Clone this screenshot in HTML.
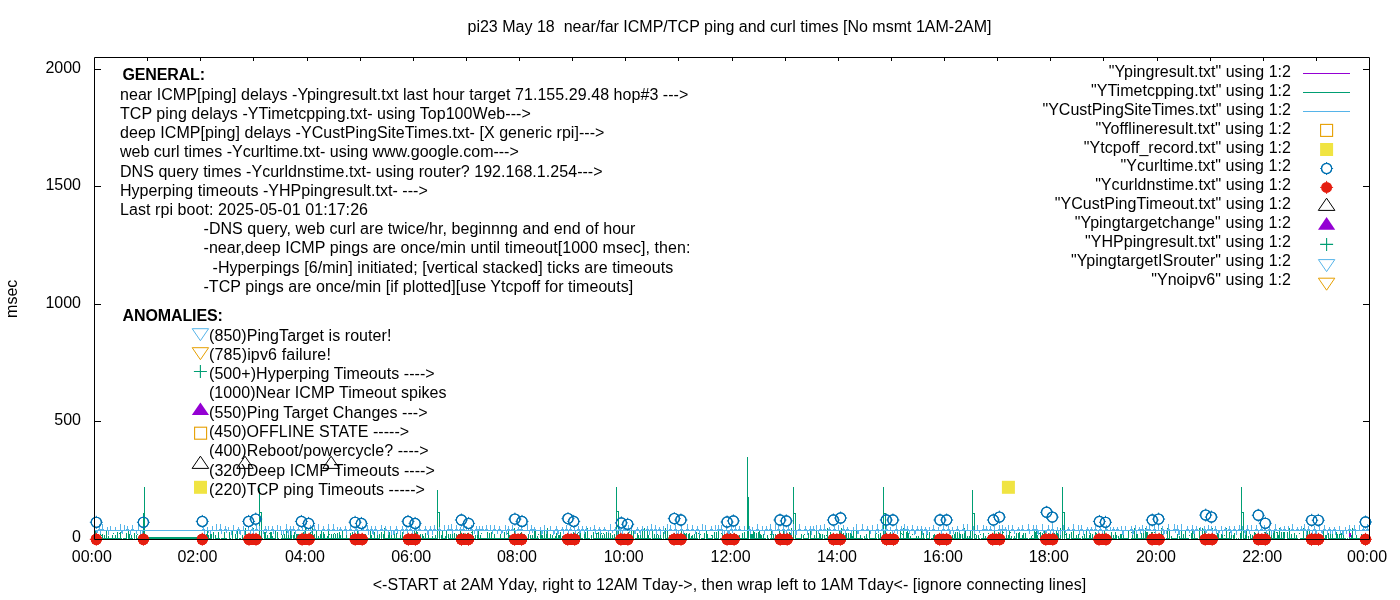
<!DOCTYPE html><html><head><meta charset="utf-8"><style>html,body{margin:0;padding:0;width:1400px;height:600px;overflow:hidden}svg{display:block;will-change:transform}text{font-family:"Liberation Sans",sans-serif;font-size:16px;fill:#000}</style></head><body>
<svg width="1400" height="600" viewBox="0 0 1400 600">
<rect width="1400" height="600" fill="#fff"/>
<path d="M95 538h1v1h-1zM95 530h1v9h-1zM96 538h1v1h-1zM97 538h1v1h-1zM97 534h1v1h-1zM98 538h1v1h-1zM98 535h1v4h-1zM99 538h1v1h-1zM100 538h1v1h-1zM100 534h1v1h-1zM101 538h1v1h-1zM101 535h1v1h-1zM102 538h1v1h-1zM102 534h1v5h-1zM103 538h1v1h-1zM104 538h1v1h-1zM104 535h1v4h-1zM105 538h1v1h-1zM106 538h1v1h-1zM106 531h1v8h-1zM107 538h1v1h-1zM108 538h1v1h-1zM108 536h1v3h-1zM109 538h1v1h-1zM110 538h1v1h-1zM111 538h1v1h-1zM112 538h1v1h-1zM112 535h1v4h-1zM113 538h1v1h-1zM113 533h1v1h-1zM114 538h1v1h-1zM115 538h1v1h-1zM115 535h1v4h-1zM116 538h1v1h-1zM117 538h1v1h-1zM117 532h1v7h-1zM118 538h1v1h-1zM119 538h1v1h-1zM119 533h1v1h-1zM120 538h1v1h-1zM120 532h1v7h-1zM121 538h1v1h-1zM123 538h1v1h-1zM124 538h1v1h-1zM125 538h1v1h-1zM126 533h1v6h-1zM128 531h1v8h-1zM129 538h1v1h-1zM129 534h1v5h-1zM130 538h1v1h-1zM130 532h1v1h-1zM131 535h1v4h-1zM132 538h1v1h-1zM134 533h1v6h-1zM136 538h1v1h-1zM136 535h1v4h-1zM137 538h1v1h-1zM137 534h1v1h-1zM138 538h1v1h-1zM139 538h1v1h-1zM139 535h1v4h-1zM140 538h1v1h-1zM141 538h1v1h-1zM142 538h1v1h-1zM142 531h1v8h-1zM143 513h1v26h-1zM201 538h1v1h-1zM202 538h1v1h-1zM204 538h1v1h-1zM204 533h1v6h-1zM205 538h1v1h-1zM206 538h1v1h-1zM206 534h1v5h-1zM207 538h1v1h-1zM207 531h1v8h-1zM208 538h1v1h-1zM208 535h1v4h-1zM209 538h1v1h-1zM210 538h1v1h-1zM210 534h1v5h-1zM211 538h1v1h-1zM211 534h1v5h-1zM213 538h1v1h-1zM213 532h1v7h-1zM215 538h1v1h-1zM215 535h1v4h-1zM216 538h1v1h-1zM217 538h1v1h-1zM218 538h1v1h-1zM218 532h1v7h-1zM219 538h1v1h-1zM221 538h1v1h-1zM222 538h1v1h-1zM223 538h1v1h-1zM224 538h1v1h-1zM224 532h1v7h-1zM225 538h1v1h-1zM226 538h1v1h-1zM229 538h1v1h-1zM229 532h1v7h-1zM230 538h1v1h-1zM232 538h1v1h-1zM232 531h1v8h-1zM235 534h1v5h-1zM236 538h1v1h-1zM237 538h1v1h-1zM237 531h1v8h-1zM239 538h1v1h-1zM240 538h1v1h-1zM242 538h1v1h-1zM242 535h1v4h-1zM243 538h1v1h-1zM244 538h1v1h-1zM245 538h1v1h-1zM245 528h1v11h-1zM247 538h1v1h-1zM247 535h1v4h-1zM248 538h1v1h-1zM249 538h1v1h-1zM250 538h1v1h-1zM250 533h1v6h-1zM251 538h1v1h-1zM252 538h1v1h-1zM253 538h1v1h-1zM253 528h1v11h-1zM256 538h1v1h-1zM256 534h1v5h-1zM257 538h1v1h-1zM258 538h1v1h-1zM258 535h1v4h-1zM259 488h1v51h-1zM260 512h1v1h-1zM261 512h1v27h-1zM262 538h1v1h-1zM264 532h1v7h-1zM265 538h1v1h-1zM265 532h1v7h-1zM266 538h1v1h-1zM267 538h1v1h-1zM267 535h1v4h-1zM268 538h1v1h-1zM269 538h1v1h-1zM269 533h1v1h-1zM270 538h1v1h-1zM270 532h1v7h-1zM271 538h1v1h-1zM271 532h1v7h-1zM272 538h1v1h-1zM272 536h1v3h-1zM273 538h1v1h-1zM274 538h1v1h-1zM275 531h1v8h-1zM277 538h1v1h-1zM277 532h1v7h-1zM278 538h1v1h-1zM281 538h1v1h-1zM281 534h1v1h-1zM282 535h1v4h-1zM283 538h1v1h-1zM284 538h1v1h-1zM284 534h1v5h-1zM285 538h1v1h-1zM286 528h1v11h-1zM287 538h1v1h-1zM288 538h1v1h-1zM288 532h1v7h-1zM289 538h1v1h-1zM290 538h1v1h-1zM290 530h1v9h-1zM291 533h1v6h-1zM293 538h1v1h-1zM293 535h1v4h-1zM294 538h1v1h-1zM294 532h1v7h-1zM295 538h1v1h-1zM296 538h1v1h-1zM296 534h1v5h-1zM297 538h1v1h-1zM297 534h1v5h-1zM298 534h1v5h-1zM299 538h1v1h-1zM300 538h1v1h-1zM302 538h1v1h-1zM303 538h1v1h-1zM303 532h1v7h-1zM304 538h1v1h-1zM305 538h1v1h-1zM305 528h1v11h-1zM306 538h1v1h-1zM307 538h1v1h-1zM307 535h1v4h-1zM308 534h1v5h-1zM309 538h1v1h-1zM310 538h1v1h-1zM310 532h1v7h-1zM311 538h1v1h-1zM312 538h1v1h-1zM312 528h1v11h-1zM313 538h1v1h-1zM313 535h1v4h-1zM314 538h1v1h-1zM314 534h1v5h-1zM315 538h1v1h-1zM316 538h1v1h-1zM316 530h1v9h-1zM317 538h1v1h-1zM318 538h1v1h-1zM318 536h1v3h-1zM319 538h1v1h-1zM320 534h1v5h-1zM321 530h1v9h-1zM322 538h1v1h-1zM323 532h1v7h-1zM324 538h1v1h-1zM324 534h1v5h-1zM325 538h1v1h-1zM326 538h1v1h-1zM327 538h1v1h-1zM327 536h1v3h-1zM328 530h1v9h-1zM329 538h1v1h-1zM329 534h1v1h-1zM330 538h1v1h-1zM331 538h1v1h-1zM331 534h1v5h-1zM332 538h1v1h-1zM333 538h1v1h-1zM333 534h1v5h-1zM334 538h1v1h-1zM334 533h1v1h-1zM335 534h1v5h-1zM336 538h1v1h-1zM337 538h1v1h-1zM337 533h1v6h-1zM338 538h1v1h-1zM339 538h1v1h-1zM339 532h1v7h-1zM340 538h1v1h-1zM340 535h1v4h-1zM341 538h1v1h-1zM342 538h1v1h-1zM342 530h1v9h-1zM343 538h1v1h-1zM344 538h1v1h-1zM345 538h1v1h-1zM346 533h1v6h-1zM347 538h1v1h-1zM348 538h1v1h-1zM349 538h1v1h-1zM350 538h1v1h-1zM350 533h1v6h-1zM351 538h1v1h-1zM352 538h1v1h-1zM352 532h1v7h-1zM353 538h1v1h-1zM354 538h1v1h-1zM355 538h1v1h-1zM357 538h1v1h-1zM357 530h1v9h-1zM358 538h1v1h-1zM358 532h1v7h-1zM359 538h1v1h-1zM360 538h1v1h-1zM361 538h1v1h-1zM361 535h1v4h-1zM362 538h1v1h-1zM363 538h1v1h-1zM364 538h1v1h-1zM365 538h1v1h-1zM365 534h1v5h-1zM366 538h1v1h-1zM367 538h1v1h-1zM368 538h1v1h-1zM369 538h1v1h-1zM370 538h1v1h-1zM370 530h1v9h-1zM371 538h1v1h-1zM371 535h1v4h-1zM372 538h1v1h-1zM373 538h1v1h-1zM374 538h1v1h-1zM374 532h1v7h-1zM375 538h1v1h-1zM376 538h1v1h-1zM377 538h1v1h-1zM377 532h1v7h-1zM378 538h1v1h-1zM379 534h1v5h-1zM381 538h1v1h-1zM381 532h1v7h-1zM383 538h1v1h-1zM383 534h1v5h-1zM384 538h1v1h-1zM384 528h1v11h-1zM385 538h1v1h-1zM386 538h1v1h-1zM387 538h1v1h-1zM388 538h1v1h-1zM388 532h1v7h-1zM389 538h1v1h-1zM389 532h1v7h-1zM390 538h1v1h-1zM391 538h1v1h-1zM391 533h1v6h-1zM392 538h1v1h-1zM393 538h1v1h-1zM394 534h1v5h-1zM395 538h1v1h-1zM396 538h1v1h-1zM396 533h1v6h-1zM397 538h1v1h-1zM398 538h1v1h-1zM399 538h1v1h-1zM400 538h1v1h-1zM400 530h1v9h-1zM401 538h1v1h-1zM402 538h1v1h-1zM402 532h1v7h-1zM403 538h1v1h-1zM404 538h1v1h-1zM404 536h1v3h-1zM407 538h1v1h-1zM408 538h1v1h-1zM409 538h1v1h-1zM410 538h1v1h-1zM410 536h1v3h-1zM412 538h1v1h-1zM412 534h1v5h-1zM413 538h1v1h-1zM414 530h1v9h-1zM415 538h1v1h-1zM416 538h1v1h-1zM416 530h1v9h-1zM417 538h1v1h-1zM417 532h1v7h-1zM418 538h1v1h-1zM419 538h1v1h-1zM420 538h1v1h-1zM420 534h1v5h-1zM421 538h1v1h-1zM422 538h1v1h-1zM422 534h1v5h-1zM423 536h1v3h-1zM424 538h1v1h-1zM425 538h1v1h-1zM425 533h1v6h-1zM426 538h1v1h-1zM427 538h1v1h-1zM427 533h1v1h-1zM428 538h1v1h-1zM428 530h1v9h-1zM429 538h1v1h-1zM430 538h1v1h-1zM431 538h1v1h-1zM432 538h1v1h-1zM432 536h1v3h-1zM433 538h1v1h-1zM434 538h1v1h-1zM435 535h1v4h-1zM436 538h1v1h-1zM437 490h1v49h-1zM438 512h1v1h-1zM439 512h1v27h-1zM441 535h1v4h-1zM442 538h1v1h-1zM442 530h1v9h-1zM443 538h1v1h-1zM444 538h1v1h-1zM445 536h1v3h-1zM446 538h1v1h-1zM446 531h1v8h-1zM448 538h1v1h-1zM448 534h1v5h-1zM449 538h1v1h-1zM450 538h1v1h-1zM450 534h1v5h-1zM451 538h1v1h-1zM452 538h1v1h-1zM452 531h1v8h-1zM453 538h1v1h-1zM454 533h1v6h-1zM455 538h1v1h-1zM456 538h1v1h-1zM456 534h1v5h-1zM457 538h1v1h-1zM458 538h1v1h-1zM458 534h1v5h-1zM459 538h1v1h-1zM460 538h1v1h-1zM460 530h1v9h-1zM461 538h1v1h-1zM462 538h1v1h-1zM463 538h1v1h-1zM463 533h1v6h-1zM464 538h1v1h-1zM465 538h1v1h-1zM465 534h1v5h-1zM466 538h1v1h-1zM466 534h1v5h-1zM467 538h1v1h-1zM467 533h1v1h-1zM468 538h1v1h-1zM469 538h1v1h-1zM470 538h1v1h-1zM471 538h1v1h-1zM471 532h1v1h-1zM472 538h1v1h-1zM472 531h1v8h-1zM473 538h1v1h-1zM473 536h1v3h-1zM474 538h1v1h-1zM475 538h1v1h-1zM475 535h1v4h-1zM477 538h1v1h-1zM477 532h1v7h-1zM478 538h1v1h-1zM478 530h1v9h-1zM479 538h1v1h-1zM480 535h1v4h-1zM481 538h1v1h-1zM481 533h1v1h-1zM482 538h1v1h-1zM483 538h1v1h-1zM484 538h1v1h-1zM485 538h1v1h-1zM486 538h1v1h-1zM487 538h1v1h-1zM487 532h1v7h-1zM488 538h1v1h-1zM489 533h1v6h-1zM490 538h1v1h-1zM491 538h1v1h-1zM491 532h1v7h-1zM492 538h1v1h-1zM493 538h1v1h-1zM494 534h1v5h-1zM495 538h1v1h-1zM496 538h1v1h-1zM497 538h1v1h-1zM498 538h1v1h-1zM499 538h1v1h-1zM500 534h1v5h-1zM501 538h1v1h-1zM502 538h1v1h-1zM503 538h1v1h-1zM504 532h1v7h-1zM505 538h1v1h-1zM506 538h1v1h-1zM507 538h1v1h-1zM507 533h1v1h-1zM508 531h1v8h-1zM509 538h1v1h-1zM509 535h1v4h-1zM510 538h1v1h-1zM510 536h1v3h-1zM511 538h1v1h-1zM512 538h1v1h-1zM512 535h1v4h-1zM513 535h1v1h-1zM514 538h1v1h-1zM514 528h1v11h-1zM515 535h1v4h-1zM516 538h1v1h-1zM517 538h1v1h-1zM519 538h1v1h-1zM520 538h1v1h-1zM520 533h1v1h-1zM521 538h1v1h-1zM521 532h1v7h-1zM522 538h1v1h-1zM522 534h1v1h-1zM523 538h1v1h-1zM524 538h1v1h-1zM524 534h1v5h-1zM526 538h1v1h-1zM527 538h1v1h-1zM528 538h1v1h-1zM528 534h1v5h-1zM530 538h1v1h-1zM530 535h1v4h-1zM531 538h1v1h-1zM532 535h1v4h-1zM533 538h1v1h-1zM534 538h1v1h-1zM534 530h1v9h-1zM535 531h1v8h-1zM536 538h1v1h-1zM537 538h1v1h-1zM537 536h1v3h-1zM538 538h1v1h-1zM538 534h1v1h-1zM540 538h1v1h-1zM540 531h1v8h-1zM541 538h1v1h-1zM541 532h1v7h-1zM542 538h1v1h-1zM542 535h1v4h-1zM543 538h1v1h-1zM544 538h1v1h-1zM544 530h1v9h-1zM545 538h1v1h-1zM546 538h1v1h-1zM546 534h1v5h-1zM547 538h1v1h-1zM547 528h1v11h-1zM548 538h1v1h-1zM549 538h1v1h-1zM550 534h1v5h-1zM551 538h1v1h-1zM552 535h1v4h-1zM553 538h1v1h-1zM554 538h1v1h-1zM555 538h1v1h-1zM555 536h1v3h-1zM556 538h1v1h-1zM556 533h1v6h-1zM557 538h1v1h-1zM558 538h1v1h-1zM558 535h1v4h-1zM559 538h1v1h-1zM559 535h1v4h-1zM560 532h1v7h-1zM561 538h1v1h-1zM562 536h1v3h-1zM564 538h1v1h-1zM565 538h1v1h-1zM566 538h1v1h-1zM567 538h1v1h-1zM568 538h1v1h-1zM568 534h1v5h-1zM569 534h1v5h-1zM570 538h1v1h-1zM571 538h1v1h-1zM571 535h1v4h-1zM572 538h1v1h-1zM573 532h1v7h-1zM575 538h1v1h-1zM575 533h1v6h-1zM576 538h1v1h-1zM577 538h1v1h-1zM577 533h1v6h-1zM578 538h1v1h-1zM578 532h1v1h-1zM579 538h1v1h-1zM579 532h1v7h-1zM580 538h1v1h-1zM580 532h1v7h-1zM581 538h1v1h-1zM582 538h1v1h-1zM584 538h1v1h-1zM584 533h1v6h-1zM585 538h1v1h-1zM585 532h1v7h-1zM586 538h1v1h-1zM587 538h1v1h-1zM587 528h1v11h-1zM588 538h1v1h-1zM589 538h1v1h-1zM591 538h1v1h-1zM591 535h1v4h-1zM593 532h1v7h-1zM594 538h1v1h-1zM595 538h1v1h-1zM596 538h1v1h-1zM596 533h1v6h-1zM597 538h1v1h-1zM597 533h1v1h-1zM598 532h1v7h-1zM599 538h1v1h-1zM600 534h1v5h-1zM601 538h1v1h-1zM601 533h1v1h-1zM602 538h1v1h-1zM602 535h1v4h-1zM603 538h1v1h-1zM603 533h1v1h-1zM604 534h1v5h-1zM605 538h1v1h-1zM606 538h1v1h-1zM606 532h1v7h-1zM607 538h1v1h-1zM608 532h1v7h-1zM609 538h1v1h-1zM610 538h1v1h-1zM610 533h1v6h-1zM611 538h1v1h-1zM612 538h1v1h-1zM612 535h1v4h-1zM613 538h1v1h-1zM614 538h1v1h-1zM614 534h1v5h-1zM615 538h1v1h-1zM616 487h1v52h-1zM617 511h1v1h-1zM618 511h1v28h-1zM619 538h1v1h-1zM620 538h1v1h-1zM620 536h1v3h-1zM621 538h1v1h-1zM622 538h1v1h-1zM622 533h1v6h-1zM623 534h1v5h-1zM624 538h1v1h-1zM624 536h1v3h-1zM625 538h1v1h-1zM626 538h1v1h-1zM626 534h1v5h-1zM627 538h1v1h-1zM628 538h1v1h-1zM628 532h1v7h-1zM629 538h1v1h-1zM629 534h1v5h-1zM630 538h1v1h-1zM631 538h1v1h-1zM631 530h1v9h-1zM632 538h1v1h-1zM633 538h1v1h-1zM633 530h1v9h-1zM635 538h1v1h-1zM635 532h1v1h-1zM636 538h1v1h-1zM637 538h1v1h-1zM637 533h1v6h-1zM638 538h1v1h-1zM638 535h1v4h-1zM639 538h1v1h-1zM640 534h1v5h-1zM641 538h1v1h-1zM642 538h1v1h-1zM642 531h1v8h-1zM643 538h1v1h-1zM644 538h1v1h-1zM644 528h1v11h-1zM645 538h1v1h-1zM646 538h1v1h-1zM647 538h1v1h-1zM647 528h1v11h-1zM648 538h1v1h-1zM648 535h1v4h-1zM649 538h1v1h-1zM650 538h1v1h-1zM652 538h1v1h-1zM652 530h1v9h-1zM653 538h1v1h-1zM654 538h1v1h-1zM654 534h1v5h-1zM655 538h1v1h-1zM656 532h1v7h-1zM657 538h1v1h-1zM657 534h1v1h-1zM658 535h1v4h-1zM659 538h1v1h-1zM660 534h1v5h-1zM661 538h1v1h-1zM663 532h1v7h-1zM665 528h1v11h-1zM666 538h1v1h-1zM667 538h1v1h-1zM667 531h1v8h-1zM668 538h1v1h-1zM669 538h1v1h-1zM669 535h1v4h-1zM670 538h1v1h-1zM670 535h1v4h-1zM671 538h1v1h-1zM671 535h1v4h-1zM672 538h1v1h-1zM673 538h1v1h-1zM674 538h1v1h-1zM674 533h1v1h-1zM675 538h1v1h-1zM676 538h1v1h-1zM678 538h1v1h-1zM678 534h1v5h-1zM679 538h1v1h-1zM679 536h1v3h-1zM681 538h1v1h-1zM681 530h1v9h-1zM682 538h1v1h-1zM683 538h1v1h-1zM684 538h1v1h-1zM684 533h1v6h-1zM685 538h1v1h-1zM685 534h1v5h-1zM686 533h1v6h-1zM688 538h1v1h-1zM688 534h1v5h-1zM689 538h1v1h-1zM689 533h1v6h-1zM690 538h1v1h-1zM691 538h1v1h-1zM691 536h1v3h-1zM692 538h1v1h-1zM692 535h1v4h-1zM693 538h1v1h-1zM694 538h1v1h-1zM694 534h1v5h-1zM695 538h1v1h-1zM696 538h1v1h-1zM696 532h1v7h-1zM697 538h1v1h-1zM698 533h1v1h-1zM699 538h1v1h-1zM699 534h1v5h-1zM700 534h1v1h-1zM701 538h1v1h-1zM702 538h1v1h-1zM703 538h1v1h-1zM704 538h1v1h-1zM704 533h1v6h-1zM706 538h1v1h-1zM706 530h1v9h-1zM707 538h1v1h-1zM707 534h1v5h-1zM708 538h1v1h-1zM709 538h1v1h-1zM710 538h1v1h-1zM711 538h1v1h-1zM711 535h1v1h-1zM712 538h1v1h-1zM712 535h1v4h-1zM714 538h1v1h-1zM714 532h1v7h-1zM715 538h1v1h-1zM716 538h1v1h-1zM716 532h1v7h-1zM717 538h1v1h-1zM718 538h1v1h-1zM718 528h1v11h-1zM720 538h1v1h-1zM721 538h1v1h-1zM721 533h1v1h-1zM722 538h1v1h-1zM722 534h1v5h-1zM723 538h1v1h-1zM724 530h1v9h-1zM725 538h1v1h-1zM727 538h1v1h-1zM727 534h1v5h-1zM728 538h1v1h-1zM729 538h1v1h-1zM730 538h1v1h-1zM730 533h1v6h-1zM731 538h1v1h-1zM732 538h1v1h-1zM732 535h1v4h-1zM733 538h1v1h-1zM734 538h1v1h-1zM734 533h1v6h-1zM735 538h1v1h-1zM736 538h1v1h-1zM737 538h1v1h-1zM739 538h1v1h-1zM739 535h1v4h-1zM740 538h1v1h-1zM741 538h1v1h-1zM742 538h1v1h-1zM742 533h1v6h-1zM743 538h1v1h-1zM744 538h1v1h-1zM744 532h1v7h-1zM745 538h1v1h-1zM746 538h1v1h-1zM747 457h1v82h-1zM748 497h1v42h-1zM750 538h1v1h-1zM750 532h1v7h-1zM751 534h1v5h-1zM752 538h1v1h-1zM752 534h1v5h-1zM753 538h1v1h-1zM753 531h1v8h-1zM754 538h1v1h-1zM754 532h1v7h-1zM755 538h1v1h-1zM756 533h1v6h-1zM757 538h1v1h-1zM758 532h1v7h-1zM759 538h1v1h-1zM759 531h1v8h-1zM760 538h1v1h-1zM760 534h1v5h-1zM761 538h1v1h-1zM761 535h1v4h-1zM762 538h1v1h-1zM763 538h1v1h-1zM763 534h1v5h-1zM764 538h1v1h-1zM765 538h1v1h-1zM767 535h1v4h-1zM768 538h1v1h-1zM770 538h1v1h-1zM770 534h1v1h-1zM771 530h1v9h-1zM772 538h1v1h-1zM773 534h1v5h-1zM774 538h1v1h-1zM775 538h1v1h-1zM775 534h1v5h-1zM776 538h1v1h-1zM777 538h1v1h-1zM777 535h1v4h-1zM778 538h1v1h-1zM779 538h1v1h-1zM779 530h1v9h-1zM780 538h1v1h-1zM781 538h1v1h-1zM782 538h1v1h-1zM782 534h1v5h-1zM783 531h1v8h-1zM785 538h1v1h-1zM786 538h1v1h-1zM786 536h1v3h-1zM787 538h1v1h-1zM787 534h1v5h-1zM788 538h1v1h-1zM788 535h1v4h-1zM789 532h1v7h-1zM790 538h1v1h-1zM790 533h1v6h-1zM791 538h1v1h-1zM791 528h1v11h-1zM792 538h1v1h-1zM793 487h1v52h-1zM794 513h1v1h-1zM795 513h1v26h-1zM796 538h1v1h-1zM797 538h1v1h-1zM798 538h1v1h-1zM799 538h1v1h-1zM800 538h1v1h-1zM801 538h1v1h-1zM801 534h1v5h-1zM803 538h1v1h-1zM803 535h1v4h-1zM804 538h1v1h-1zM804 534h1v1h-1zM805 538h1v1h-1zM806 538h1v1h-1zM807 538h1v1h-1zM807 533h1v1h-1zM808 533h1v6h-1zM810 538h1v1h-1zM810 530h1v9h-1zM811 538h1v1h-1zM812 538h1v1h-1zM813 538h1v1h-1zM814 538h1v1h-1zM814 535h1v4h-1zM815 538h1v1h-1zM816 538h1v1h-1zM816 530h1v9h-1zM817 538h1v1h-1zM818 538h1v1h-1zM819 538h1v1h-1zM819 533h1v6h-1zM820 538h1v1h-1zM820 534h1v5h-1zM821 538h1v1h-1zM822 538h1v1h-1zM822 534h1v5h-1zM824 538h1v1h-1zM824 535h1v4h-1zM825 538h1v1h-1zM826 538h1v1h-1zM826 535h1v1h-1zM827 538h1v1h-1zM827 528h1v11h-1zM828 538h1v1h-1zM829 538h1v1h-1zM829 535h1v4h-1zM830 538h1v1h-1zM830 532h1v7h-1zM831 538h1v1h-1zM832 538h1v1h-1zM833 538h1v1h-1zM834 538h1v1h-1zM835 538h1v1h-1zM836 538h1v1h-1zM837 538h1v1h-1zM838 538h1v1h-1zM838 536h1v3h-1zM839 538h1v1h-1zM839 530h1v9h-1zM840 538h1v1h-1zM841 538h1v1h-1zM841 528h1v11h-1zM842 538h1v1h-1zM843 538h1v1h-1zM843 533h1v6h-1zM844 538h1v1h-1zM845 532h1v7h-1zM846 538h1v1h-1zM846 533h1v6h-1zM847 538h1v1h-1zM848 538h1v1h-1zM848 533h1v6h-1zM849 538h1v1h-1zM850 538h1v1h-1zM850 533h1v6h-1zM851 538h1v1h-1zM851 532h1v7h-1zM852 538h1v1h-1zM852 536h1v3h-1zM853 538h1v1h-1zM853 530h1v9h-1zM854 538h1v1h-1zM855 538h1v1h-1zM856 538h1v1h-1zM856 528h1v11h-1zM857 538h1v1h-1zM858 538h1v1h-1zM859 538h1v1h-1zM860 538h1v1h-1zM860 535h1v4h-1zM861 538h1v1h-1zM862 538h1v1h-1zM864 538h1v1h-1zM864 536h1v3h-1zM865 538h1v1h-1zM866 534h1v5h-1zM867 538h1v1h-1zM869 538h1v1h-1zM869 531h1v8h-1zM870 538h1v1h-1zM871 538h1v1h-1zM872 538h1v1h-1zM873 538h1v1h-1zM874 538h1v1h-1zM875 538h1v1h-1zM875 531h1v8h-1zM876 538h1v1h-1zM876 533h1v1h-1zM878 538h1v1h-1zM878 534h1v5h-1zM879 538h1v1h-1zM880 538h1v1h-1zM880 533h1v6h-1zM881 538h1v1h-1zM882 536h1v3h-1zM883 487h1v52h-1zM884 513h1v1h-1zM885 513h1v26h-1zM886 538h1v1h-1zM886 534h1v1h-1zM887 538h1v1h-1zM888 535h1v4h-1zM890 538h1v1h-1zM890 532h1v7h-1zM891 538h1v1h-1zM892 538h1v1h-1zM892 532h1v7h-1zM893 538h1v1h-1zM894 538h1v1h-1zM895 536h1v3h-1zM896 538h1v1h-1zM897 538h1v1h-1zM897 536h1v3h-1zM898 538h1v1h-1zM899 538h1v1h-1zM900 538h1v1h-1zM900 531h1v8h-1zM901 538h1v1h-1zM901 533h1v1h-1zM902 538h1v1h-1zM902 534h1v1h-1zM903 538h1v1h-1zM903 528h1v11h-1zM904 538h1v1h-1zM905 538h1v1h-1zM906 532h1v7h-1zM907 538h1v1h-1zM907 530h1v9h-1zM908 538h1v1h-1zM908 533h1v6h-1zM909 538h1v1h-1zM910 538h1v1h-1zM910 536h1v3h-1zM911 538h1v1h-1zM912 538h1v1h-1zM912 534h1v1h-1zM913 538h1v1h-1zM914 538h1v1h-1zM915 538h1v1h-1zM916 536h1v3h-1zM917 538h1v1h-1zM918 538h1v1h-1zM918 536h1v3h-1zM919 538h1v1h-1zM920 538h1v1h-1zM921 531h1v8h-1zM922 538h1v1h-1zM923 538h1v1h-1zM923 533h1v6h-1zM924 538h1v1h-1zM926 538h1v1h-1zM926 535h1v4h-1zM927 538h1v1h-1zM927 534h1v1h-1zM928 538h1v1h-1zM929 532h1v7h-1zM931 538h1v1h-1zM932 538h1v1h-1zM933 535h1v4h-1zM934 538h1v1h-1zM934 534h1v5h-1zM935 538h1v1h-1zM936 538h1v1h-1zM937 538h1v1h-1zM937 534h1v5h-1zM938 538h1v1h-1zM939 538h1v1h-1zM939 535h1v4h-1zM941 538h1v1h-1zM942 538h1v1h-1zM942 534h1v5h-1zM943 538h1v1h-1zM944 538h1v1h-1zM945 538h1v1h-1zM946 536h1v3h-1zM947 538h1v1h-1zM948 538h1v1h-1zM949 538h1v1h-1zM950 538h1v1h-1zM950 536h1v3h-1zM951 538h1v1h-1zM952 535h1v4h-1zM953 538h1v1h-1zM954 538h1v1h-1zM954 534h1v5h-1zM955 538h1v1h-1zM955 532h1v7h-1zM956 538h1v1h-1zM957 538h1v1h-1zM957 532h1v7h-1zM958 538h1v1h-1zM959 538h1v1h-1zM959 532h1v7h-1zM960 534h1v5h-1zM962 538h1v1h-1zM962 534h1v5h-1zM963 538h1v1h-1zM964 528h1v11h-1zM965 530h1v9h-1zM966 538h1v1h-1zM967 538h1v1h-1zM967 536h1v3h-1zM968 538h1v1h-1zM969 538h1v1h-1zM969 536h1v3h-1zM970 531h1v8h-1zM971 538h1v1h-1zM972 490h1v49h-1zM973 513h1v1h-1zM974 513h1v26h-1zM975 538h1v1h-1zM975 534h1v1h-1zM976 538h1v1h-1zM976 535h1v4h-1zM978 538h1v1h-1zM978 535h1v4h-1zM979 538h1v1h-1zM980 534h1v1h-1zM981 538h1v1h-1zM982 538h1v1h-1zM983 533h1v6h-1zM984 538h1v1h-1zM985 536h1v3h-1zM986 538h1v1h-1zM987 538h1v1h-1zM988 538h1v1h-1zM988 533h1v1h-1zM989 538h1v1h-1zM990 538h1v1h-1zM991 538h1v1h-1zM992 533h1v6h-1zM993 538h1v1h-1zM994 528h1v11h-1zM996 535h1v4h-1zM998 538h1v1h-1zM998 532h1v7h-1zM999 538h1v1h-1zM999 535h1v1h-1zM1000 538h1v1h-1zM1000 535h1v4h-1zM1001 538h1v1h-1zM1002 528h1v11h-1zM1003 538h1v1h-1zM1003 532h1v1h-1zM1004 538h1v1h-1zM1005 538h1v1h-1zM1006 538h1v1h-1zM1006 535h1v4h-1zM1007 538h1v1h-1zM1008 538h1v1h-1zM1008 535h1v4h-1zM1009 538h1v1h-1zM1009 531h1v8h-1zM1010 538h1v1h-1zM1010 532h1v1h-1zM1011 538h1v1h-1zM1011 536h1v3h-1zM1013 538h1v1h-1zM1014 538h1v1h-1zM1014 536h1v3h-1zM1015 538h1v1h-1zM1016 538h1v1h-1zM1016 533h1v6h-1zM1018 533h1v6h-1zM1019 532h1v7h-1zM1020 538h1v1h-1zM1021 538h1v1h-1zM1022 538h1v1h-1zM1022 535h1v4h-1zM1023 538h1v1h-1zM1023 533h1v6h-1zM1024 538h1v1h-1zM1025 538h1v1h-1zM1025 533h1v6h-1zM1026 538h1v1h-1zM1027 538h1v1h-1zM1029 538h1v1h-1zM1030 538h1v1h-1zM1031 538h1v1h-1zM1031 536h1v3h-1zM1032 538h1v1h-1zM1032 535h1v1h-1zM1033 538h1v1h-1zM1034 538h1v1h-1zM1034 530h1v9h-1zM1035 538h1v1h-1zM1035 532h1v7h-1zM1036 531h1v8h-1zM1037 538h1v1h-1zM1037 535h1v4h-1zM1038 538h1v1h-1zM1039 533h1v1h-1zM1040 538h1v1h-1zM1040 532h1v7h-1zM1041 538h1v1h-1zM1042 538h1v1h-1zM1042 533h1v6h-1zM1043 538h1v1h-1zM1044 538h1v1h-1zM1044 531h1v8h-1zM1045 538h1v1h-1zM1046 538h1v1h-1zM1046 534h1v5h-1zM1047 538h1v1h-1zM1048 538h1v1h-1zM1048 533h1v6h-1zM1049 538h1v1h-1zM1050 538h1v1h-1zM1050 534h1v5h-1zM1051 538h1v1h-1zM1052 538h1v1h-1zM1053 538h1v1h-1zM1053 533h1v6h-1zM1054 538h1v1h-1zM1054 533h1v6h-1zM1056 538h1v1h-1zM1056 530h1v9h-1zM1057 538h1v1h-1zM1057 533h1v6h-1zM1058 538h1v1h-1zM1058 534h1v5h-1zM1059 538h1v1h-1zM1060 528h1v11h-1zM1062 487h1v52h-1zM1063 512h1v1h-1zM1064 512h1v27h-1zM1065 534h1v1h-1zM1066 538h1v1h-1zM1066 533h1v6h-1zM1067 538h1v1h-1zM1068 538h1v1h-1zM1069 538h1v1h-1zM1069 534h1v5h-1zM1071 538h1v1h-1zM1071 532h1v7h-1zM1072 538h1v1h-1zM1073 538h1v1h-1zM1073 531h1v8h-1zM1074 538h1v1h-1zM1075 538h1v1h-1zM1076 538h1v1h-1zM1076 535h1v4h-1zM1077 538h1v1h-1zM1078 538h1v1h-1zM1078 534h1v5h-1zM1079 538h1v1h-1zM1080 538h1v1h-1zM1082 538h1v1h-1zM1082 536h1v3h-1zM1083 538h1v1h-1zM1083 532h1v1h-1zM1084 538h1v1h-1zM1084 534h1v5h-1zM1085 538h1v1h-1zM1086 538h1v1h-1zM1086 530h1v9h-1zM1087 538h1v1h-1zM1088 538h1v1h-1zM1089 538h1v1h-1zM1089 535h1v4h-1zM1090 538h1v1h-1zM1090 533h1v6h-1zM1091 538h1v1h-1zM1092 534h1v5h-1zM1094 538h1v1h-1zM1095 532h1v7h-1zM1096 538h1v1h-1zM1096 533h1v6h-1zM1097 538h1v1h-1zM1098 535h1v4h-1zM1099 538h1v1h-1zM1100 538h1v1h-1zM1101 538h1v1h-1zM1102 538h1v1h-1zM1102 532h1v7h-1zM1103 538h1v1h-1zM1104 538h1v1h-1zM1104 531h1v8h-1zM1105 538h1v1h-1zM1107 538h1v1h-1zM1107 536h1v3h-1zM1108 538h1v1h-1zM1109 538h1v1h-1zM1109 535h1v4h-1zM1110 538h1v1h-1zM1111 538h1v1h-1zM1111 532h1v7h-1zM1112 538h1v1h-1zM1113 535h1v4h-1zM1114 538h1v1h-1zM1115 538h1v1h-1zM1115 532h1v7h-1zM1116 538h1v1h-1zM1116 535h1v4h-1zM1118 538h1v1h-1zM1118 536h1v3h-1zM1119 538h1v1h-1zM1120 538h1v1h-1zM1120 534h1v5h-1zM1121 538h1v1h-1zM1121 534h1v5h-1zM1122 538h1v1h-1zM1123 534h1v5h-1zM1124 538h1v1h-1zM1125 538h1v1h-1zM1126 538h1v1h-1zM1127 538h1v1h-1zM1128 538h1v1h-1zM1128 531h1v8h-1zM1131 538h1v1h-1zM1131 532h1v1h-1zM1132 530h1v9h-1zM1133 538h1v1h-1zM1134 538h1v1h-1zM1134 528h1v11h-1zM1135 538h1v1h-1zM1136 538h1v1h-1zM1136 533h1v6h-1zM1137 538h1v1h-1zM1137 534h1v5h-1zM1138 538h1v1h-1zM1139 538h1v1h-1zM1140 538h1v1h-1zM1141 533h1v6h-1zM1142 538h1v1h-1zM1143 538h1v1h-1zM1143 533h1v6h-1zM1144 538h1v1h-1zM1145 538h1v1h-1zM1145 528h1v11h-1zM1146 538h1v1h-1zM1146 532h1v7h-1zM1147 532h1v7h-1zM1148 538h1v1h-1zM1149 538h1v1h-1zM1149 534h1v5h-1zM1150 538h1v1h-1zM1151 532h1v7h-1zM1152 538h1v1h-1zM1152 532h1v1h-1zM1153 538h1v1h-1zM1154 532h1v1h-1zM1155 538h1v1h-1zM1155 534h1v5h-1zM1156 538h1v1h-1zM1157 538h1v1h-1zM1158 538h1v1h-1zM1158 534h1v5h-1zM1159 538h1v1h-1zM1160 538h1v1h-1zM1161 538h1v1h-1zM1161 528h1v11h-1zM1162 538h1v1h-1zM1162 534h1v5h-1zM1163 538h1v1h-1zM1164 538h1v1h-1zM1164 533h1v1h-1zM1166 538h1v1h-1zM1167 538h1v1h-1zM1167 528h1v11h-1zM1168 538h1v1h-1zM1169 530h1v9h-1zM1171 538h1v1h-1zM1171 536h1v3h-1zM1172 538h1v1h-1zM1173 538h1v1h-1zM1174 538h1v1h-1zM1175 538h1v1h-1zM1176 538h1v1h-1zM1177 538h1v1h-1zM1177 534h1v5h-1zM1179 538h1v1h-1zM1179 536h1v3h-1zM1180 538h1v1h-1zM1181 538h1v1h-1zM1181 528h1v11h-1zM1182 538h1v1h-1zM1183 538h1v1h-1zM1183 534h1v5h-1zM1184 538h1v1h-1zM1185 538h1v1h-1zM1185 530h1v9h-1zM1186 538h1v1h-1zM1187 538h1v1h-1zM1188 538h1v1h-1zM1189 535h1v1h-1zM1191 538h1v1h-1zM1191 533h1v6h-1zM1192 538h1v1h-1zM1192 528h1v11h-1zM1193 538h1v1h-1zM1194 538h1v1h-1zM1194 532h1v7h-1zM1195 538h1v1h-1zM1196 538h1v1h-1zM1197 538h1v1h-1zM1199 538h1v1h-1zM1199 528h1v11h-1zM1200 538h1v1h-1zM1202 538h1v1h-1zM1202 528h1v11h-1zM1204 538h1v1h-1zM1204 530h1v9h-1zM1205 538h1v1h-1zM1205 535h1v1h-1zM1206 538h1v1h-1zM1206 535h1v4h-1zM1207 538h1v1h-1zM1208 538h1v1h-1zM1209 538h1v1h-1zM1209 534h1v5h-1zM1210 538h1v1h-1zM1211 538h1v1h-1zM1212 538h1v1h-1zM1212 528h1v11h-1zM1213 538h1v1h-1zM1214 538h1v1h-1zM1215 538h1v1h-1zM1216 538h1v1h-1zM1217 538h1v1h-1zM1217 533h1v6h-1zM1218 534h1v5h-1zM1219 538h1v1h-1zM1220 538h1v1h-1zM1221 538h1v1h-1zM1221 534h1v5h-1zM1222 538h1v1h-1zM1222 533h1v6h-1zM1223 538h1v1h-1zM1224 538h1v1h-1zM1224 535h1v1h-1zM1225 538h1v1h-1zM1226 538h1v1h-1zM1226 528h1v11h-1zM1227 538h1v1h-1zM1228 538h1v1h-1zM1229 532h1v7h-1zM1230 538h1v1h-1zM1231 538h1v1h-1zM1231 531h1v8h-1zM1233 538h1v1h-1zM1233 535h1v4h-1zM1234 538h1v1h-1zM1234 533h1v6h-1zM1236 538h1v1h-1zM1238 538h1v1h-1zM1240 538h1v1h-1zM1240 533h1v6h-1zM1241 487h1v52h-1zM1242 512h1v1h-1zM1243 512h1v27h-1zM1244 538h1v1h-1zM1245 538h1v1h-1zM1245 534h1v5h-1zM1246 538h1v1h-1zM1246 531h1v8h-1zM1248 536h1v3h-1zM1250 538h1v1h-1zM1250 534h1v5h-1zM1251 538h1v1h-1zM1252 538h1v1h-1zM1252 535h1v4h-1zM1253 538h1v1h-1zM1254 538h1v1h-1zM1254 532h1v7h-1zM1255 538h1v1h-1zM1255 533h1v6h-1zM1256 538h1v1h-1zM1258 538h1v1h-1zM1258 530h1v9h-1zM1259 538h1v1h-1zM1260 536h1v3h-1zM1261 538h1v1h-1zM1262 534h1v5h-1zM1263 538h1v1h-1zM1264 538h1v1h-1zM1264 532h1v1h-1zM1265 538h1v1h-1zM1265 532h1v7h-1zM1266 538h1v1h-1zM1267 538h1v1h-1zM1267 533h1v6h-1zM1269 530h1v9h-1zM1270 538h1v1h-1zM1271 538h1v1h-1zM1271 533h1v6h-1zM1272 538h1v1h-1zM1273 538h1v1h-1zM1273 530h1v9h-1zM1274 538h1v1h-1zM1274 530h1v9h-1zM1275 538h1v1h-1zM1276 538h1v1h-1zM1276 532h1v1h-1zM1277 538h1v1h-1zM1277 532h1v7h-1zM1278 538h1v1h-1zM1278 535h1v4h-1zM1279 528h1v11h-1zM1280 538h1v1h-1zM1281 538h1v1h-1zM1281 532h1v7h-1zM1282 538h1v1h-1zM1283 538h1v1h-1zM1283 532h1v7h-1zM1284 538h1v1h-1zM1284 532h1v7h-1zM1287 532h1v7h-1zM1288 538h1v1h-1zM1289 538h1v1h-1zM1289 528h1v11h-1zM1290 538h1v1h-1zM1291 538h1v1h-1zM1291 534h1v5h-1zM1292 538h1v1h-1zM1293 538h1v1h-1zM1294 538h1v1h-1zM1294 533h1v6h-1zM1295 538h1v1h-1zM1296 535h1v4h-1zM1297 538h1v1h-1zM1299 533h1v1h-1zM1300 538h1v1h-1zM1301 538h1v1h-1zM1302 538h1v1h-1zM1303 538h1v1h-1zM1303 528h1v11h-1zM1304 538h1v1h-1zM1305 538h1v1h-1zM1306 538h1v1h-1zM1306 533h1v6h-1zM1307 530h1v9h-1zM1308 538h1v1h-1zM1309 538h1v1h-1zM1309 531h1v8h-1zM1310 538h1v1h-1zM1311 538h1v1h-1zM1311 534h1v5h-1zM1312 538h1v1h-1zM1313 538h1v1h-1zM1314 538h1v1h-1zM1314 534h1v5h-1zM1315 538h1v1h-1zM1317 538h1v1h-1zM1317 535h1v4h-1zM1318 538h1v1h-1zM1319 538h1v1h-1zM1320 538h1v1h-1zM1321 538h1v1h-1zM1321 532h1v1h-1zM1323 538h1v1h-1zM1323 531h1v8h-1zM1324 538h1v1h-1zM1325 538h1v1h-1zM1325 535h1v4h-1zM1326 538h1v1h-1zM1326 535h1v4h-1zM1328 538h1v1h-1zM1328 533h1v6h-1zM1329 538h1v1h-1zM1330 538h1v1h-1zM1330 534h1v5h-1zM1331 538h1v1h-1zM1332 538h1v1h-1zM1332 530h1v9h-1zM1333 538h1v1h-1zM1334 538h1v1h-1zM1335 538h1v1h-1zM1335 534h1v1h-1zM1336 532h1v7h-1zM1337 534h1v5h-1zM1338 538h1v1h-1zM1339 538h1v1h-1zM1339 534h1v5h-1zM1340 538h1v1h-1zM1340 534h1v1h-1zM1341 538h1v1h-1zM1341 533h1v6h-1zM1342 538h1v1h-1zM1343 538h1v1h-1zM1343 532h1v7h-1zM1344 538h1v1h-1zM1345 538h1v1h-1zM1347 538h1v1h-1zM1349 538h1v1h-1zM1349 530h1v9h-1zM1350 538h1v1h-1zM1351 538h1v1h-1zM1351 535h1v4h-1zM1352 538h1v1h-1zM1352 528h1v11h-1zM1353 538h1v1h-1zM1354 538h1v1h-1zM1355 538h1v1h-1zM1356 538h1v1h-1zM1356 535h1v4h-1zM1357 538h1v1h-1zM1358 538h1v1h-1zM1359 538h1v1h-1zM1361 538h1v1h-1zM1361 534h1v5h-1zM1362 538h1v1h-1zM1363 538h1v1h-1zM1363 536h1v3h-1zM1364 538h1v1h-1zM1365 538h1v1h-1zM1365 535h1v1h-1zM1366 538h1v1h-1zM1367 535h1v1h-1zM1368 538h1v1h-1zM144 487h1v52h-1z" fill="#009e73" shape-rendering="crispEdges"/>
<rect x="143" y="537" width="58" height="2" fill="#009e73" shape-rendering="crispEdges"/>
<path d="M96 530h1v4h-1zM97 530h1v3h-1zM99 524h1v7h-1zM98 529h1v1h-1zM100 529h1v1h-1zM100 530h1v4h-1zM102 524h1v7h-1zM101 529h1v1h-1zM103 529h1v1h-1zM107 527h1v4h-1zM108 530h1v5h-1zM110 526h1v5h-1zM115 527h1v4h-1zM120 524h1v7h-1zM121 530h1v3h-1zM122 530h1v4h-1zM124 525h1v6h-1zM127 526h1v5h-1zM126 529h1v1h-1zM128 529h1v1h-1zM130 530h1v5h-1zM132 525h1v6h-1zM131 529h1v1h-1zM133 529h1v1h-1zM136 530h1v4h-1zM138 524h1v7h-1zM140 530h1v5h-1zM142 530h1v4h-1zM203 527h1v4h-1zM202 529h1v1h-1zM204 529h1v1h-1zM204 530h1v4h-1zM207 527h1v4h-1zM208 530h1v3h-1zM210 530h1v4h-1zM212 526h1v5h-1zM216 524h1v7h-1zM220 524h1v7h-1zM219 529h1v1h-1zM221 529h1v1h-1zM221 530h1v4h-1zM225 526h1v5h-1zM224 529h1v1h-1zM226 529h1v1h-1zM226 530h1v3h-1zM228 527h1v4h-1zM231 530h1v5h-1zM233 525h1v6h-1zM236 530h1v4h-1zM238 527h1v4h-1zM237 529h1v1h-1zM239 529h1v1h-1zM239 530h1v4h-1zM240 530h1v5h-1zM243 526h1v5h-1zM244 530h1v5h-1zM248 526h1v5h-1zM250 530h1v4h-1zM252 527h1v4h-1zM251 529h1v1h-1zM253 529h1v1h-1zM253 530h1v5h-1zM256 525h1v6h-1zM255 529h1v1h-1zM257 529h1v1h-1zM259 526h1v5h-1zM263 530h1v4h-1zM265 526h1v5h-1zM264 529h1v1h-1zM266 529h1v1h-1zM266 530h1v3h-1zM268 526h1v5h-1zM272 526h1v5h-1zM271 529h1v1h-1zM273 529h1v1h-1zM273 530h1v4h-1zM277 525h1v6h-1zM280 526h1v5h-1zM281 530h1v4h-1zM283 530h1v5h-1zM286 524h1v7h-1zM285 529h1v1h-1zM287 529h1v1h-1zM287 530h1v3h-1zM288 530h1v5h-1zM290 526h1v5h-1zM289 529h1v1h-1zM291 529h1v1h-1zM291 530h1v5h-1zM293 526h1v5h-1zM292 529h1v1h-1zM294 529h1v1h-1zM295 530h1v4h-1zM298 527h1v4h-1zM297 529h1v1h-1zM299 529h1v1h-1zM302 526h1v5h-1zM304 530h1v4h-1zM306 527h1v4h-1zM310 525h1v6h-1zM311 530h1v3h-1zM314 525h1v6h-1zM313 529h1v1h-1zM315 529h1v1h-1zM318 524h1v7h-1zM323 526h1v5h-1zM322 529h1v1h-1zM324 529h1v1h-1zM328 524h1v7h-1zM327 529h1v1h-1zM329 529h1v1h-1zM333 524h1v7h-1zM332 529h1v1h-1zM334 529h1v1h-1zM337 527h1v4h-1zM340 527h1v4h-1zM339 529h1v1h-1zM341 529h1v1h-1zM345 526h1v5h-1zM344 529h1v1h-1zM346 529h1v1h-1zM346 530h1v5h-1zM350 525h1v6h-1zM349 529h1v1h-1zM351 529h1v1h-1zM354 530h1v5h-1zM356 526h1v5h-1zM355 529h1v1h-1zM357 529h1v1h-1zM358 530h1v5h-1zM362 526h1v5h-1zM361 529h1v1h-1zM363 529h1v1h-1zM367 525h1v6h-1zM366 529h1v1h-1zM368 529h1v1h-1zM368 530h1v5h-1zM371 526h1v5h-1zM370 529h1v1h-1zM372 529h1v1h-1zM372 530h1v4h-1zM373 530h1v5h-1zM375 526h1v5h-1zM374 529h1v1h-1zM376 529h1v1h-1zM377 530h1v5h-1zM381 525h1v6h-1zM380 529h1v1h-1zM382 529h1v1h-1zM385 526h1v5h-1zM384 529h1v1h-1zM386 529h1v1h-1zM388 530h1v5h-1zM390 526h1v5h-1zM391 530h1v5h-1zM393 530h1v5h-1zM394 530h1v4h-1zM396 526h1v5h-1zM395 529h1v1h-1zM397 529h1v1h-1zM397 530h1v4h-1zM400 530h1v5h-1zM402 526h1v5h-1zM401 529h1v1h-1zM403 529h1v1h-1zM403 530h1v4h-1zM406 525h1v6h-1zM405 529h1v1h-1zM407 529h1v1h-1zM407 530h1v4h-1zM410 527h1v4h-1zM409 529h1v1h-1zM411 529h1v1h-1zM412 530h1v5h-1zM415 526h1v5h-1zM414 529h1v1h-1zM416 529h1v1h-1zM419 525h1v6h-1zM418 529h1v1h-1zM420 529h1v1h-1zM425 526h1v5h-1zM424 529h1v1h-1zM426 529h1v1h-1zM427 530h1v5h-1zM428 530h1v5h-1zM430 526h1v5h-1zM429 529h1v1h-1zM431 529h1v1h-1zM432 530h1v5h-1zM434 525h1v6h-1zM433 529h1v1h-1zM435 529h1v1h-1zM439 527h1v4h-1zM438 529h1v1h-1zM440 529h1v1h-1zM444 525h1v6h-1zM448 525h1v6h-1zM447 529h1v1h-1zM449 529h1v1h-1zM451 524h1v7h-1zM450 529h1v1h-1zM452 529h1v1h-1zM452 530h1v4h-1zM456 525h1v6h-1zM455 529h1v1h-1zM457 529h1v1h-1zM460 527h1v4h-1zM459 529h1v1h-1zM461 529h1v1h-1zM463 526h1v5h-1zM462 529h1v1h-1zM464 529h1v1h-1zM466 526h1v5h-1zM471 525h1v6h-1zM470 529h1v1h-1zM472 529h1v1h-1zM474 530h1v4h-1zM476 526h1v5h-1zM475 529h1v1h-1zM477 529h1v1h-1zM477 530h1v5h-1zM479 526h1v5h-1zM478 529h1v1h-1zM480 529h1v1h-1zM482 526h1v5h-1zM481 529h1v1h-1zM483 529h1v1h-1zM486 525h1v6h-1zM485 529h1v1h-1zM487 529h1v1h-1zM490 525h1v6h-1zM492 530h1v4h-1zM494 525h1v6h-1zM493 529h1v1h-1zM495 529h1v1h-1zM497 530h1v4h-1zM499 526h1v5h-1zM498 529h1v1h-1zM500 529h1v1h-1zM501 530h1v4h-1zM502 530h1v3h-1zM505 525h1v6h-1zM506 530h1v5h-1zM508 526h1v5h-1zM507 529h1v1h-1zM509 529h1v1h-1zM512 525h1v6h-1zM511 529h1v1h-1zM513 529h1v1h-1zM515 530h1v5h-1zM518 527h1v4h-1zM517 529h1v1h-1zM519 529h1v1h-1zM521 525h1v6h-1zM520 529h1v1h-1zM522 529h1v1h-1zM527 524h1v7h-1zM529 530h1v4h-1zM531 525h1v6h-1zM530 529h1v1h-1zM532 529h1v1h-1zM532 530h1v3h-1zM534 527h1v4h-1zM533 529h1v1h-1zM535 529h1v1h-1zM540 527h1v4h-1zM541 530h1v5h-1zM542 530h1v4h-1zM544 525h1v6h-1zM546 530h1v4h-1zM550 526h1v5h-1zM553 530h1v5h-1zM554 530h1v4h-1zM556 526h1v5h-1zM555 529h1v1h-1zM557 529h1v1h-1zM557 530h1v5h-1zM558 530h1v4h-1zM562 527h1v4h-1zM561 529h1v1h-1zM563 529h1v1h-1zM563 530h1v4h-1zM566 525h1v6h-1zM565 529h1v1h-1zM567 529h1v1h-1zM568 530h1v5h-1zM570 527h1v4h-1zM569 529h1v1h-1zM571 529h1v1h-1zM574 525h1v6h-1zM575 530h1v4h-1zM578 526h1v5h-1zM577 529h1v1h-1zM579 529h1v1h-1zM579 530h1v5h-1zM580 530h1v3h-1zM582 526h1v5h-1zM581 529h1v1h-1zM583 529h1v1h-1zM584 530h1v4h-1zM586 526h1v5h-1zM585 529h1v1h-1zM587 529h1v1h-1zM590 527h1v4h-1zM594 525h1v6h-1zM593 529h1v1h-1zM595 529h1v1h-1zM595 530h1v4h-1zM599 527h1v4h-1zM598 529h1v1h-1zM600 529h1v1h-1zM600 530h1v4h-1zM604 527h1v4h-1zM603 529h1v1h-1zM605 529h1v1h-1zM608 530h1v3h-1zM610 524h1v7h-1zM612 530h1v3h-1zM615 527h1v4h-1zM614 529h1v1h-1zM616 529h1v1h-1zM617 530h1v5h-1zM619 526h1v5h-1zM618 529h1v1h-1zM620 529h1v1h-1zM620 530h1v4h-1zM622 530h1v5h-1zM624 525h1v6h-1zM623 529h1v1h-1zM625 529h1v1h-1zM628 525h1v6h-1zM627 529h1v1h-1zM629 529h1v1h-1zM629 530h1v3h-1zM631 525h1v6h-1zM634 530h1v4h-1zM635 530h1v4h-1zM637 527h1v4h-1zM636 529h1v1h-1zM638 529h1v1h-1zM639 530h1v3h-1zM640 530h1v5h-1zM642 526h1v5h-1zM641 529h1v1h-1zM643 529h1v1h-1zM647 526h1v5h-1zM646 529h1v1h-1zM648 529h1v1h-1zM649 530h1v5h-1zM651 524h1v7h-1zM650 529h1v1h-1zM652 529h1v1h-1zM655 525h1v6h-1zM654 529h1v1h-1zM656 529h1v1h-1zM656 530h1v5h-1zM659 527h1v4h-1zM658 529h1v1h-1zM660 529h1v1h-1zM660 530h1v5h-1zM663 526h1v5h-1zM664 530h1v4h-1zM667 524h1v7h-1zM670 525h1v6h-1zM669 529h1v1h-1zM671 529h1v1h-1zM675 524h1v7h-1zM674 529h1v1h-1zM676 529h1v1h-1zM676 530h1v4h-1zM678 530h1v4h-1zM681 525h1v6h-1zM680 529h1v1h-1zM682 529h1v1h-1zM683 530h1v4h-1zM687 524h1v7h-1zM686 529h1v1h-1zM688 529h1v1h-1zM692 525h1v6h-1zM691 529h1v1h-1zM693 529h1v1h-1zM695 530h1v4h-1zM697 526h1v5h-1zM696 529h1v1h-1zM698 529h1v1h-1zM699 530h1v5h-1zM702 524h1v7h-1zM705 525h1v6h-1zM711 526h1v5h-1zM710 529h1v1h-1zM712 529h1v1h-1zM715 525h1v6h-1zM718 525h1v6h-1zM717 529h1v1h-1zM719 529h1v1h-1zM721 525h1v6h-1zM720 529h1v1h-1zM722 529h1v1h-1zM722 530h1v4h-1zM724 530h1v4h-1zM726 525h1v6h-1zM727 530h1v4h-1zM728 530h1v4h-1zM729 530h1v5h-1zM731 525h1v6h-1zM730 529h1v1h-1zM732 529h1v1h-1zM732 530h1v3h-1zM735 526h1v5h-1zM734 529h1v1h-1zM736 529h1v1h-1zM739 526h1v5h-1zM738 529h1v1h-1zM740 529h1v1h-1zM744 526h1v5h-1zM749 526h1v5h-1zM748 529h1v1h-1zM750 529h1v1h-1zM750 530h1v4h-1zM752 527h1v4h-1zM757 524h1v7h-1zM756 529h1v1h-1zM758 529h1v1h-1zM762 526h1v5h-1zM764 530h1v5h-1zM766 526h1v5h-1zM765 529h1v1h-1zM767 529h1v1h-1zM770 524h1v7h-1zM769 529h1v1h-1zM771 529h1v1h-1zM772 530h1v5h-1zM775 524h1v7h-1zM778 524h1v7h-1zM777 529h1v1h-1zM779 529h1v1h-1zM783 524h1v7h-1zM782 529h1v1h-1zM784 529h1v1h-1zM784 530h1v4h-1zM786 530h1v4h-1zM788 526h1v5h-1zM787 529h1v1h-1zM789 529h1v1h-1zM791 530h1v5h-1zM793 524h1v7h-1zM795 530h1v5h-1zM796 530h1v5h-1zM799 524h1v7h-1zM798 529h1v1h-1zM800 529h1v1h-1zM805 526h1v5h-1zM804 529h1v1h-1zM806 529h1v1h-1zM807 530h1v5h-1zM810 526h1v5h-1zM809 529h1v1h-1zM811 529h1v1h-1zM811 530h1v5h-1zM813 526h1v5h-1zM812 529h1v1h-1zM814 529h1v1h-1zM816 525h1v6h-1zM818 530h1v4h-1zM820 525h1v6h-1zM819 529h1v1h-1zM821 529h1v1h-1zM824 524h1v7h-1zM823 529h1v1h-1zM825 529h1v1h-1zM829 527h1v4h-1zM828 529h1v1h-1zM830 529h1v1h-1zM834 526h1v5h-1zM833 529h1v1h-1zM835 529h1v1h-1zM838 525h1v6h-1zM840 530h1v4h-1zM843 525h1v6h-1zM842 529h1v1h-1zM844 529h1v1h-1zM845 530h1v5h-1zM847 527h1v4h-1zM846 529h1v1h-1zM848 529h1v1h-1zM851 530h1v4h-1zM853 527h1v4h-1zM856 524h1v7h-1zM857 530h1v4h-1zM858 530h1v4h-1zM862 524h1v7h-1zM861 529h1v1h-1zM863 529h1v1h-1zM867 526h1v5h-1zM866 529h1v1h-1zM868 529h1v1h-1zM870 530h1v4h-1zM872 525h1v6h-1zM875 530h1v4h-1zM877 524h1v7h-1zM876 529h1v1h-1zM878 529h1v1h-1zM878 530h1v3h-1zM882 525h1v6h-1zM881 529h1v1h-1zM883 529h1v1h-1zM884 530h1v4h-1zM886 526h1v5h-1zM885 529h1v1h-1zM887 529h1v1h-1zM890 527h1v4h-1zM892 530h1v5h-1zM894 530h1v3h-1zM896 525h1v6h-1zM895 529h1v1h-1zM897 529h1v1h-1zM897 530h1v4h-1zM901 526h1v5h-1zM900 529h1v1h-1zM902 529h1v1h-1zM904 524h1v7h-1zM903 529h1v1h-1zM905 529h1v1h-1zM907 526h1v5h-1zM906 529h1v1h-1zM908 529h1v1h-1zM909 530h1v4h-1zM912 525h1v6h-1zM911 529h1v1h-1zM913 529h1v1h-1zM914 530h1v5h-1zM915 530h1v4h-1zM917 526h1v5h-1zM916 529h1v1h-1zM918 529h1v1h-1zM921 526h1v5h-1zM920 529h1v1h-1zM922 529h1v1h-1zM922 530h1v5h-1zM925 527h1v4h-1zM924 529h1v1h-1zM926 529h1v1h-1zM926 530h1v5h-1zM927 530h1v4h-1zM929 527h1v4h-1zM933 525h1v6h-1zM932 529h1v1h-1zM934 529h1v1h-1zM938 527h1v4h-1zM941 530h1v5h-1zM943 525h1v6h-1zM942 529h1v1h-1zM944 529h1v1h-1zM948 526h1v5h-1zM947 529h1v1h-1zM949 529h1v1h-1zM949 530h1v4h-1zM950 530h1v4h-1zM952 527h1v4h-1zM953 530h1v4h-1zM957 526h1v5h-1zM956 529h1v1h-1zM958 529h1v1h-1zM959 530h1v3h-1zM963 524h1v7h-1zM962 529h1v1h-1zM964 529h1v1h-1zM964 530h1v3h-1zM967 524h1v7h-1zM973 526h1v5h-1zM974 530h1v4h-1zM977 525h1v6h-1zM979 530h1v3h-1zM983 525h1v6h-1zM982 529h1v1h-1zM984 529h1v1h-1zM986 526h1v5h-1zM985 529h1v1h-1zM987 529h1v1h-1zM990 526h1v5h-1zM989 529h1v1h-1zM991 529h1v1h-1zM994 526h1v5h-1zM999 525h1v6h-1zM998 529h1v1h-1zM1000 529h1v1h-1zM1000 530h1v5h-1zM1002 525h1v6h-1zM1001 529h1v1h-1zM1003 529h1v1h-1zM1005 527h1v4h-1zM1004 529h1v1h-1zM1006 529h1v1h-1zM1006 530h1v5h-1zM1008 525h1v6h-1zM1012 525h1v6h-1zM1011 529h1v1h-1zM1013 529h1v1h-1zM1014 530h1v4h-1zM1018 527h1v4h-1zM1017 529h1v1h-1zM1019 529h1v1h-1zM1022 525h1v6h-1zM1021 529h1v1h-1zM1023 529h1v1h-1zM1028 524h1v7h-1zM1027 529h1v1h-1zM1029 529h1v1h-1zM1029 530h1v4h-1zM1033 525h1v6h-1zM1032 529h1v1h-1zM1034 529h1v1h-1zM1036 525h1v6h-1zM1035 529h1v1h-1zM1037 529h1v1h-1zM1037 530h1v4h-1zM1038 530h1v5h-1zM1042 524h1v7h-1zM1043 530h1v3h-1zM1045 530h1v3h-1zM1046 530h1v3h-1zM1048 525h1v6h-1zM1047 529h1v1h-1zM1049 529h1v1h-1zM1050 530h1v5h-1zM1052 524h1v7h-1zM1051 529h1v1h-1zM1053 529h1v1h-1zM1053 530h1v4h-1zM1057 527h1v4h-1zM1058 530h1v4h-1zM1060 530h1v5h-1zM1063 525h1v6h-1zM1065 530h1v3h-1zM1068 527h1v4h-1zM1067 529h1v1h-1zM1069 529h1v1h-1zM1073 524h1v7h-1zM1072 529h1v1h-1zM1074 529h1v1h-1zM1078 525h1v6h-1zM1079 530h1v5h-1zM1081 525h1v6h-1zM1080 529h1v1h-1zM1082 529h1v1h-1zM1083 530h1v5h-1zM1087 527h1v4h-1zM1086 529h1v1h-1zM1088 529h1v1h-1zM1089 530h1v4h-1zM1091 527h1v4h-1zM1090 529h1v1h-1zM1092 529h1v1h-1zM1095 526h1v5h-1zM1094 529h1v1h-1zM1096 529h1v1h-1zM1098 530h1v3h-1zM1100 527h1v4h-1zM1099 529h1v1h-1zM1101 529h1v1h-1zM1102 530h1v5h-1zM1106 525h1v6h-1zM1105 529h1v1h-1zM1107 529h1v1h-1zM1110 527h1v4h-1zM1113 527h1v4h-1zM1112 529h1v1h-1zM1114 529h1v1h-1zM1117 527h1v4h-1zM1116 529h1v1h-1zM1118 529h1v1h-1zM1121 526h1v5h-1zM1122 530h1v5h-1zM1123 530h1v5h-1zM1125 526h1v5h-1zM1131 526h1v5h-1zM1130 529h1v1h-1zM1132 529h1v1h-1zM1132 530h1v5h-1zM1133 530h1v4h-1zM1135 525h1v6h-1zM1136 530h1v4h-1zM1139 527h1v4h-1zM1138 529h1v1h-1zM1140 529h1v1h-1zM1140 530h1v4h-1zM1142 525h1v6h-1zM1141 529h1v1h-1zM1143 529h1v1h-1zM1143 530h1v3h-1zM1146 526h1v5h-1zM1145 529h1v1h-1zM1147 529h1v1h-1zM1149 525h1v6h-1zM1148 529h1v1h-1zM1150 529h1v1h-1zM1154 524h1v7h-1zM1153 529h1v1h-1zM1155 529h1v1h-1zM1155 530h1v3h-1zM1158 525h1v6h-1zM1162 526h1v5h-1zM1161 529h1v1h-1zM1163 529h1v1h-1zM1163 530h1v5h-1zM1164 530h1v4h-1zM1166 530h1v4h-1zM1168 524h1v7h-1zM1167 529h1v1h-1zM1169 529h1v1h-1zM1174 524h1v7h-1zM1173 529h1v1h-1zM1175 529h1v1h-1zM1175 530h1v3h-1zM1177 525h1v6h-1zM1176 529h1v1h-1zM1178 529h1v1h-1zM1178 530h1v5h-1zM1179 530h1v5h-1zM1181 524h1v7h-1zM1187 526h1v5h-1zM1186 529h1v1h-1zM1188 529h1v1h-1zM1189 530h1v3h-1zM1192 525h1v6h-1zM1191 529h1v1h-1zM1193 529h1v1h-1zM1193 530h1v4h-1zM1194 530h1v4h-1zM1196 526h1v5h-1zM1195 529h1v1h-1zM1197 529h1v1h-1zM1200 527h1v4h-1zM1204 526h1v5h-1zM1203 529h1v1h-1zM1205 529h1v1h-1zM1205 530h1v5h-1zM1206 530h1v3h-1zM1208 525h1v6h-1zM1207 529h1v1h-1zM1209 529h1v1h-1zM1211 526h1v5h-1zM1210 529h1v1h-1zM1212 529h1v1h-1zM1212 530h1v4h-1zM1215 526h1v5h-1zM1214 529h1v1h-1zM1216 529h1v1h-1zM1216 530h1v4h-1zM1218 530h1v4h-1zM1219 530h1v3h-1zM1221 526h1v5h-1zM1222 530h1v5h-1zM1225 527h1v4h-1zM1224 529h1v1h-1zM1226 529h1v1h-1zM1229 526h1v5h-1zM1228 529h1v1h-1zM1230 529h1v1h-1zM1230 530h1v3h-1zM1231 530h1v5h-1zM1234 526h1v5h-1zM1233 529h1v1h-1zM1235 529h1v1h-1zM1236 530h1v5h-1zM1239 525h1v6h-1zM1238 529h1v1h-1zM1240 529h1v1h-1zM1242 526h1v5h-1zM1244 530h1v3h-1zM1245 530h1v5h-1zM1247 525h1v6h-1zM1246 529h1v1h-1zM1248 529h1v1h-1zM1249 530h1v4h-1zM1251 525h1v6h-1zM1256 525h1v6h-1zM1255 529h1v1h-1zM1257 529h1v1h-1zM1258 530h1v4h-1zM1261 526h1v5h-1zM1260 529h1v1h-1zM1262 529h1v1h-1zM1264 525h1v6h-1zM1266 530h1v5h-1zM1269 527h1v4h-1zM1268 529h1v1h-1zM1270 529h1v1h-1zM1271 530h1v5h-1zM1273 530h1v3h-1zM1275 524h1v7h-1zM1274 529h1v1h-1zM1276 529h1v1h-1zM1280 527h1v4h-1zM1279 529h1v1h-1zM1281 529h1v1h-1zM1284 526h1v5h-1zM1283 529h1v1h-1zM1285 529h1v1h-1zM1288 526h1v5h-1zM1292 524h1v7h-1zM1291 529h1v1h-1zM1293 529h1v1h-1zM1297 527h1v4h-1zM1296 529h1v1h-1zM1298 529h1v1h-1zM1301 526h1v5h-1zM1300 529h1v1h-1zM1302 529h1v1h-1zM1304 524h1v7h-1zM1303 529h1v1h-1zM1305 529h1v1h-1zM1306 530h1v5h-1zM1308 526h1v5h-1zM1307 529h1v1h-1zM1309 529h1v1h-1zM1312 530h1v5h-1zM1314 526h1v5h-1zM1313 529h1v1h-1zM1315 529h1v1h-1zM1315 530h1v4h-1zM1316 530h1v4h-1zM1319 524h1v7h-1zM1321 530h1v3h-1zM1322 530h1v4h-1zM1324 525h1v6h-1zM1323 529h1v1h-1zM1325 529h1v1h-1zM1327 530h1v5h-1zM1329 527h1v4h-1zM1328 529h1v1h-1zM1330 529h1v1h-1zM1330 530h1v4h-1zM1332 530h1v4h-1zM1334 527h1v4h-1zM1333 529h1v1h-1zM1335 529h1v1h-1zM1335 530h1v5h-1zM1339 526h1v5h-1zM1340 530h1v4h-1zM1342 530h1v5h-1zM1343 530h1v5h-1zM1345 527h1v4h-1zM1346 530h1v4h-1zM1349 525h1v6h-1zM1348 529h1v1h-1zM1350 529h1v1h-1zM1354 525h1v6h-1zM1353 529h1v1h-1zM1355 529h1v1h-1zM1355 530h1v5h-1zM1359 525h1v6h-1zM1363 526h1v5h-1zM1362 529h1v1h-1zM1364 529h1v1h-1zM1367 524h1v7h-1zM1366 529h1v1h-1zM1368 529h1v1h-1z" fill="#56b4e9" shape-rendering="crispEdges"/>
<rect x="95" y="530" width="1274" height="1" fill="#56b4e9" shape-rendering="crispEdges"/>
<rect x="1349" y="533" width="2" height="4" fill="#9400d3" shape-rendering="crispEdges"/>
<circle cx="96.3" cy="522.3" r="5.1" fill="none" stroke="#0072b2" stroke-width="1.15"/><circle cx="96.3" cy="522.3" r="5.1" fill="none" stroke="#0072b2" stroke-width="1.15"/><path d="M96.3 515.8 v1.5 M96.3 528.8 v-1.5 M89.8 522.3 h1.5 M102.8 522.3 h-1.5" stroke="#0072b2" stroke-width="1"/>
<circle cx="143.4" cy="522.3" r="5.1" fill="none" stroke="#0072b2" stroke-width="1.15"/><circle cx="143.4" cy="522.3" r="5.1" fill="none" stroke="#0072b2" stroke-width="1.15"/><path d="M143.4 515.8 v1.5 M143.4 528.8 v-1.5 M136.9 522.3 h1.5 M149.9 522.3 h-1.5" stroke="#0072b2" stroke-width="1"/>
<circle cx="202.3" cy="521.4" r="5.1" fill="none" stroke="#0072b2" stroke-width="1.15"/><circle cx="202.3" cy="521.4" r="5.1" fill="none" stroke="#0072b2" stroke-width="1.15"/><path d="M202.3 514.9 v1.5 M202.3 527.9 v-1.5 M195.8 521.4 h1.5 M208.8 521.4 h-1.5" stroke="#0072b2" stroke-width="1"/>
<circle cx="248.6" cy="521.4" r="5.1" fill="none" stroke="#0072b2" stroke-width="1.15"/><circle cx="248.6" cy="521.4" r="5.1" fill="none" stroke="#0072b2" stroke-width="1.15"/><path d="M248.6 514.9 v1.5 M248.6 527.9 v-1.5 M242.1 521.4 h1.5 M255.1 521.4 h-1.5" stroke="#0072b2" stroke-width="1"/>
<circle cx="255.7" cy="519.1" r="5.1" fill="none" stroke="#0072b2" stroke-width="1.15"/><circle cx="255.7" cy="519.1" r="5.1" fill="none" stroke="#0072b2" stroke-width="1.15"/><path d="M255.7 512.6 v1.5 M255.7 525.6 v-1.5 M249.2 519.1 h1.5 M262.2 519.1 h-1.5" stroke="#0072b2" stroke-width="1"/>
<circle cx="301.4" cy="521.4" r="5.1" fill="none" stroke="#0072b2" stroke-width="1.15"/><circle cx="301.4" cy="521.4" r="5.1" fill="none" stroke="#0072b2" stroke-width="1.15"/><path d="M301.4 514.9 v1.5 M301.4 527.9 v-1.5 M294.9 521.4 h1.5 M307.9 521.4 h-1.5" stroke="#0072b2" stroke-width="1"/>
<circle cx="308.6" cy="523.4" r="5.1" fill="none" stroke="#0072b2" stroke-width="1.15"/><circle cx="308.6" cy="523.4" r="5.1" fill="none" stroke="#0072b2" stroke-width="1.15"/><path d="M308.6 516.9 v1.5 M308.6 529.9 v-1.5 M302.1 523.4 h1.5 M315.1 523.4 h-1.5" stroke="#0072b2" stroke-width="1"/>
<circle cx="355.1" cy="522.3" r="5.1" fill="none" stroke="#0072b2" stroke-width="1.15"/><circle cx="355.1" cy="522.3" r="5.1" fill="none" stroke="#0072b2" stroke-width="1.15"/><path d="M355.1 515.8 v1.5 M355.1 528.8 v-1.5 M348.6 522.3 h1.5 M361.6 522.3 h-1.5" stroke="#0072b2" stroke-width="1"/>
<circle cx="361.4" cy="523.4" r="5.1" fill="none" stroke="#0072b2" stroke-width="1.15"/><circle cx="361.4" cy="523.4" r="5.1" fill="none" stroke="#0072b2" stroke-width="1.15"/><path d="M361.4 516.9 v1.5 M361.4 529.9 v-1.5 M354.9 523.4 h1.5 M367.9 523.4 h-1.5" stroke="#0072b2" stroke-width="1"/>
<circle cx="408.0" cy="521.4" r="5.1" fill="none" stroke="#0072b2" stroke-width="1.15"/><circle cx="408.0" cy="521.4" r="5.1" fill="none" stroke="#0072b2" stroke-width="1.15"/><path d="M408.0 514.9 v1.5 M408.0 527.9 v-1.5 M401.5 521.4 h1.5 M414.5 521.4 h-1.5" stroke="#0072b2" stroke-width="1"/>
<circle cx="415.1" cy="523.4" r="5.1" fill="none" stroke="#0072b2" stroke-width="1.15"/><circle cx="415.1" cy="523.4" r="5.1" fill="none" stroke="#0072b2" stroke-width="1.15"/><path d="M415.1 516.9 v1.5 M415.1 529.9 v-1.5 M408.6 523.4 h1.5 M421.6 523.4 h-1.5" stroke="#0072b2" stroke-width="1"/>
<circle cx="461.4" cy="520.0" r="5.1" fill="none" stroke="#0072b2" stroke-width="1.15"/><circle cx="461.4" cy="520.0" r="5.1" fill="none" stroke="#0072b2" stroke-width="1.15"/><path d="M461.4 513.5 v1.5 M461.4 526.5 v-1.5 M454.9 520.0 h1.5 M467.9 520.0 h-1.5" stroke="#0072b2" stroke-width="1"/>
<circle cx="468.6" cy="523.4" r="5.1" fill="none" stroke="#0072b2" stroke-width="1.15"/><circle cx="468.6" cy="523.4" r="5.1" fill="none" stroke="#0072b2" stroke-width="1.15"/><path d="M468.6 516.9 v1.5 M468.6 529.9 v-1.5 M462.1 523.4 h1.5 M475.1 523.4 h-1.5" stroke="#0072b2" stroke-width="1"/>
<circle cx="514.9" cy="519.1" r="5.1" fill="none" stroke="#0072b2" stroke-width="1.15"/><circle cx="514.9" cy="519.1" r="5.1" fill="none" stroke="#0072b2" stroke-width="1.15"/><path d="M514.9 512.6 v1.5 M514.9 525.6 v-1.5 M508.4 519.1 h1.5 M521.4 519.1 h-1.5" stroke="#0072b2" stroke-width="1"/>
<circle cx="522.0" cy="521.4" r="5.1" fill="none" stroke="#0072b2" stroke-width="1.15"/><circle cx="522.0" cy="521.4" r="5.1" fill="none" stroke="#0072b2" stroke-width="1.15"/><path d="M522.0 514.9 v1.5 M522.0 527.9 v-1.5 M515.5 521.4 h1.5 M528.5 521.4 h-1.5" stroke="#0072b2" stroke-width="1"/>
<circle cx="568.0" cy="518.6" r="5.1" fill="none" stroke="#0072b2" stroke-width="1.15"/><circle cx="568.0" cy="518.6" r="5.1" fill="none" stroke="#0072b2" stroke-width="1.15"/><path d="M568.0 512.1 v1.5 M568.0 525.1 v-1.5 M561.5 518.6 h1.5 M574.5 518.6 h-1.5" stroke="#0072b2" stroke-width="1"/>
<circle cx="573.7" cy="521.4" r="5.1" fill="none" stroke="#0072b2" stroke-width="1.15"/><circle cx="573.7" cy="521.4" r="5.1" fill="none" stroke="#0072b2" stroke-width="1.15"/><path d="M573.7 514.9 v1.5 M573.7 527.9 v-1.5 M567.2 521.4 h1.5 M580.2 521.4 h-1.5" stroke="#0072b2" stroke-width="1"/>
<circle cx="621.4" cy="522.9" r="5.1" fill="none" stroke="#0072b2" stroke-width="1.15"/><circle cx="621.4" cy="522.9" r="5.1" fill="none" stroke="#0072b2" stroke-width="1.15"/><path d="M621.4 516.4 v1.5 M621.4 529.4 v-1.5 M614.9 522.9 h1.5 M627.9 522.9 h-1.5" stroke="#0072b2" stroke-width="1"/>
<circle cx="627.7" cy="524.3" r="5.1" fill="none" stroke="#0072b2" stroke-width="1.15"/><circle cx="627.7" cy="524.3" r="5.1" fill="none" stroke="#0072b2" stroke-width="1.15"/><path d="M627.7 517.8 v1.5 M627.7 530.8 v-1.5 M621.2 524.3 h1.5 M634.2 524.3 h-1.5" stroke="#0072b2" stroke-width="1"/>
<circle cx="674.3" cy="518.6" r="5.1" fill="none" stroke="#0072b2" stroke-width="1.15"/><circle cx="674.3" cy="518.6" r="5.1" fill="none" stroke="#0072b2" stroke-width="1.15"/><path d="M674.3 512.1 v1.5 M674.3 525.1 v-1.5 M667.8 518.6 h1.5 M680.8 518.6 h-1.5" stroke="#0072b2" stroke-width="1"/>
<circle cx="680.9" cy="520.0" r="5.1" fill="none" stroke="#0072b2" stroke-width="1.15"/><circle cx="680.9" cy="520.0" r="5.1" fill="none" stroke="#0072b2" stroke-width="1.15"/><path d="M680.9 513.5 v1.5 M680.9 526.5 v-1.5 M674.4 520.0 h1.5 M687.4 520.0 h-1.5" stroke="#0072b2" stroke-width="1"/>
<circle cx="727.1" cy="522.0" r="5.1" fill="none" stroke="#0072b2" stroke-width="1.15"/><circle cx="727.1" cy="522.0" r="5.1" fill="none" stroke="#0072b2" stroke-width="1.15"/><path d="M727.1 515.5 v1.5 M727.1 528.5 v-1.5 M720.6 522.0 h1.5 M733.6 522.0 h-1.5" stroke="#0072b2" stroke-width="1"/>
<circle cx="733.4" cy="520.9" r="5.1" fill="none" stroke="#0072b2" stroke-width="1.15"/><circle cx="733.4" cy="520.9" r="5.1" fill="none" stroke="#0072b2" stroke-width="1.15"/><path d="M733.4 514.4 v1.5 M733.4 527.4 v-1.5 M726.9 520.9 h1.5 M739.9 520.9 h-1.5" stroke="#0072b2" stroke-width="1"/>
<circle cx="780.0" cy="520.0" r="5.1" fill="none" stroke="#0072b2" stroke-width="1.15"/><circle cx="780.0" cy="520.0" r="5.1" fill="none" stroke="#0072b2" stroke-width="1.15"/><path d="M780.0 513.5 v1.5 M780.0 526.5 v-1.5 M773.5 520.0 h1.5 M786.5 520.0 h-1.5" stroke="#0072b2" stroke-width="1"/>
<circle cx="786.3" cy="520.9" r="5.1" fill="none" stroke="#0072b2" stroke-width="1.15"/><circle cx="786.3" cy="520.9" r="5.1" fill="none" stroke="#0072b2" stroke-width="1.15"/><path d="M786.3 514.4 v1.5 M786.3 527.4 v-1.5 M779.8 520.9 h1.5 M792.8 520.9 h-1.5" stroke="#0072b2" stroke-width="1"/>
<circle cx="833.4" cy="520.0" r="5.1" fill="none" stroke="#0072b2" stroke-width="1.15"/><circle cx="833.4" cy="520.0" r="5.1" fill="none" stroke="#0072b2" stroke-width="1.15"/><path d="M833.4 513.5 v1.5 M833.4 526.5 v-1.5 M826.9 520.0 h1.5 M839.9 520.0 h-1.5" stroke="#0072b2" stroke-width="1"/>
<circle cx="840.6" cy="518.0" r="5.1" fill="none" stroke="#0072b2" stroke-width="1.15"/><circle cx="840.6" cy="518.0" r="5.1" fill="none" stroke="#0072b2" stroke-width="1.15"/><path d="M840.6 511.5 v1.5 M840.6 524.5 v-1.5 M834.1 518.0 h1.5 M847.1 518.0 h-1.5" stroke="#0072b2" stroke-width="1"/>
<circle cx="886.3" cy="520.0" r="5.1" fill="none" stroke="#0072b2" stroke-width="1.15"/><circle cx="886.3" cy="520.0" r="5.1" fill="none" stroke="#0072b2" stroke-width="1.15"/><path d="M886.3 513.5 v1.5 M886.3 526.5 v-1.5 M879.8 520.0 h1.5 M892.8 520.0 h-1.5" stroke="#0072b2" stroke-width="1"/>
<circle cx="892.9" cy="520.0" r="5.1" fill="none" stroke="#0072b2" stroke-width="1.15"/><circle cx="892.9" cy="520.0" r="5.1" fill="none" stroke="#0072b2" stroke-width="1.15"/><path d="M892.9 513.5 v1.5 M892.9 526.5 v-1.5 M886.4 520.0 h1.5 M899.4 520.0 h-1.5" stroke="#0072b2" stroke-width="1"/>
<circle cx="940.0" cy="520.0" r="5.1" fill="none" stroke="#0072b2" stroke-width="1.15"/><circle cx="940.0" cy="520.0" r="5.1" fill="none" stroke="#0072b2" stroke-width="1.15"/><path d="M940.0 513.5 v1.5 M940.0 526.5 v-1.5 M933.5 520.0 h1.5 M946.5 520.0 h-1.5" stroke="#0072b2" stroke-width="1"/>
<circle cx="946.6" cy="520.0" r="5.1" fill="none" stroke="#0072b2" stroke-width="1.15"/><circle cx="946.6" cy="520.0" r="5.1" fill="none" stroke="#0072b2" stroke-width="1.15"/><path d="M946.6 513.5 v1.5 M946.6 526.5 v-1.5 M940.1 520.0 h1.5 M953.1 520.0 h-1.5" stroke="#0072b2" stroke-width="1"/>
<circle cx="993.4" cy="520.0" r="5.1" fill="none" stroke="#0072b2" stroke-width="1.15"/><circle cx="993.4" cy="520.0" r="5.1" fill="none" stroke="#0072b2" stroke-width="1.15"/><path d="M993.4 513.5 v1.5 M993.4 526.5 v-1.5 M986.9 520.0 h1.5 M999.9 520.0 h-1.5" stroke="#0072b2" stroke-width="1"/>
<circle cx="999.4" cy="517.1" r="5.1" fill="none" stroke="#0072b2" stroke-width="1.15"/><circle cx="999.4" cy="517.1" r="5.1" fill="none" stroke="#0072b2" stroke-width="1.15"/><path d="M999.4 510.6 v1.5 M999.4 523.6 v-1.5 M992.9 517.1 h1.5 M1005.9 517.1 h-1.5" stroke="#0072b2" stroke-width="1"/>
<circle cx="1046.6" cy="512.3" r="5.1" fill="none" stroke="#0072b2" stroke-width="1.15"/><circle cx="1046.6" cy="512.3" r="5.1" fill="none" stroke="#0072b2" stroke-width="1.15"/><path d="M1046.6 505.8 v1.5 M1046.6 518.8 v-1.5 M1040.1 512.3 h1.5 M1053.1 512.3 h-1.5" stroke="#0072b2" stroke-width="1"/>
<circle cx="1052.3" cy="517.1" r="5.1" fill="none" stroke="#0072b2" stroke-width="1.15"/><circle cx="1052.3" cy="517.1" r="5.1" fill="none" stroke="#0072b2" stroke-width="1.15"/><path d="M1052.3 510.6 v1.5 M1052.3 523.6 v-1.5 M1045.8 517.1 h1.5 M1058.8 517.1 h-1.5" stroke="#0072b2" stroke-width="1"/>
<circle cx="1099.4" cy="521.4" r="5.1" fill="none" stroke="#0072b2" stroke-width="1.15"/><circle cx="1099.4" cy="521.4" r="5.1" fill="none" stroke="#0072b2" stroke-width="1.15"/><path d="M1099.4 514.9 v1.5 M1099.4 527.9 v-1.5 M1092.9 521.4 h1.5 M1105.9 521.4 h-1.5" stroke="#0072b2" stroke-width="1"/>
<circle cx="1105.5" cy="522.3" r="5.1" fill="none" stroke="#0072b2" stroke-width="1.15"/><circle cx="1105.5" cy="522.3" r="5.1" fill="none" stroke="#0072b2" stroke-width="1.15"/><path d="M1105.5 515.8 v1.5 M1105.5 528.8 v-1.5 M1099.0 522.3 h1.5 M1112.0 522.3 h-1.5" stroke="#0072b2" stroke-width="1"/>
<circle cx="1152.3" cy="520.0" r="5.1" fill="none" stroke="#0072b2" stroke-width="1.15"/><circle cx="1152.3" cy="520.0" r="5.1" fill="none" stroke="#0072b2" stroke-width="1.15"/><path d="M1152.3 513.5 v1.5 M1152.3 526.5 v-1.5 M1145.8 520.0 h1.5 M1158.8 520.0 h-1.5" stroke="#0072b2" stroke-width="1"/>
<circle cx="1158.6" cy="519.1" r="5.1" fill="none" stroke="#0072b2" stroke-width="1.15"/><circle cx="1158.6" cy="519.1" r="5.1" fill="none" stroke="#0072b2" stroke-width="1.15"/><path d="M1158.6 512.6 v1.5 M1158.6 525.6 v-1.5 M1152.1 519.1 h1.5 M1165.1 519.1 h-1.5" stroke="#0072b2" stroke-width="1"/>
<circle cx="1205.7" cy="515.1" r="5.1" fill="none" stroke="#0072b2" stroke-width="1.15"/><circle cx="1205.7" cy="515.1" r="5.1" fill="none" stroke="#0072b2" stroke-width="1.15"/><path d="M1205.7 508.6 v1.5 M1205.7 521.6 v-1.5 M1199.2 515.1 h1.5 M1212.2 515.1 h-1.5" stroke="#0072b2" stroke-width="1"/>
<circle cx="1211.4" cy="517.1" r="5.1" fill="none" stroke="#0072b2" stroke-width="1.15"/><circle cx="1211.4" cy="517.1" r="5.1" fill="none" stroke="#0072b2" stroke-width="1.15"/><path d="M1211.4 510.6 v1.5 M1211.4 523.6 v-1.5 M1204.9 517.1 h1.5 M1217.9 517.1 h-1.5" stroke="#0072b2" stroke-width="1"/>
<circle cx="1258.3" cy="515.3" r="5.1" fill="none" stroke="#0072b2" stroke-width="1.15"/><circle cx="1258.3" cy="515.3" r="5.1" fill="none" stroke="#0072b2" stroke-width="1.15"/><path d="M1258.3 508.8 v1.5 M1258.3 521.8 v-1.5 M1251.8 515.3 h1.5 M1264.8 515.3 h-1.5" stroke="#0072b2" stroke-width="1"/>
<circle cx="1265.3" cy="523.3" r="5.1" fill="none" stroke="#0072b2" stroke-width="1.15"/><circle cx="1265.3" cy="523.3" r="5.1" fill="none" stroke="#0072b2" stroke-width="1.15"/><path d="M1265.3 516.8 v1.5 M1265.3 529.8 v-1.5 M1258.8 523.3 h1.5 M1271.8 523.3 h-1.5" stroke="#0072b2" stroke-width="1"/>
<circle cx="1311.7" cy="520.3" r="5.1" fill="none" stroke="#0072b2" stroke-width="1.15"/><circle cx="1311.7" cy="520.3" r="5.1" fill="none" stroke="#0072b2" stroke-width="1.15"/><path d="M1311.7 513.8 v1.5 M1311.7 526.8 v-1.5 M1305.2 520.3 h1.5 M1318.2 520.3 h-1.5" stroke="#0072b2" stroke-width="1"/>
<circle cx="1318.3" cy="520.3" r="5.1" fill="none" stroke="#0072b2" stroke-width="1.15"/><circle cx="1318.3" cy="520.3" r="5.1" fill="none" stroke="#0072b2" stroke-width="1.15"/><path d="M1318.3 513.8 v1.5 M1318.3 526.8 v-1.5 M1311.8 520.3 h1.5 M1324.8 520.3 h-1.5" stroke="#0072b2" stroke-width="1"/>
<circle cx="1365.5" cy="522.0" r="5.1" fill="none" stroke="#0072b2" stroke-width="1.15"/><circle cx="1365.5" cy="522.0" r="5.1" fill="none" stroke="#0072b2" stroke-width="1.15"/><path d="M1365.5 515.5 v1.5 M1365.5 528.5 v-1.5 M1359.0 522.0 h1.5 M1372.0 522.0 h-1.5" stroke="#0072b2" stroke-width="1"/>
<circle cx="252.5" cy="539.3" r="5.5" fill="#e51e10"/><circle cx="252.5" cy="539.3" r="5.5" fill="#e51e10"/><circle cx="252.5" cy="539.3" r="5.5" fill="#e51e10"/><circle cx="252.5" cy="539.3" r="5.5" fill="#e51e10"/>
<circle cx="305.6" cy="539.3" r="5.5" fill="#e51e10"/><circle cx="305.6" cy="539.3" r="5.5" fill="#e51e10"/><circle cx="305.6" cy="539.3" r="5.5" fill="#e51e10"/><circle cx="305.6" cy="539.3" r="5.5" fill="#e51e10"/>
<circle cx="358.7" cy="539.3" r="5.5" fill="#e51e10"/><circle cx="358.7" cy="539.3" r="5.5" fill="#e51e10"/><circle cx="358.7" cy="539.3" r="5.5" fill="#e51e10"/><circle cx="358.7" cy="539.3" r="5.5" fill="#e51e10"/>
<circle cx="411.9" cy="539.3" r="5.5" fill="#e51e10"/><circle cx="411.9" cy="539.3" r="5.5" fill="#e51e10"/><circle cx="411.9" cy="539.3" r="5.5" fill="#e51e10"/><circle cx="411.9" cy="539.3" r="5.5" fill="#e51e10"/>
<circle cx="465.0" cy="539.3" r="5.5" fill="#e51e10"/><circle cx="465.0" cy="539.3" r="5.5" fill="#e51e10"/><circle cx="465.0" cy="539.3" r="5.5" fill="#e51e10"/><circle cx="465.0" cy="539.3" r="5.5" fill="#e51e10"/>
<circle cx="518.1" cy="539.3" r="5.5" fill="#e51e10"/><circle cx="518.1" cy="539.3" r="5.5" fill="#e51e10"/><circle cx="518.1" cy="539.3" r="5.5" fill="#e51e10"/><circle cx="518.1" cy="539.3" r="5.5" fill="#e51e10"/>
<circle cx="571.2" cy="539.3" r="5.5" fill="#e51e10"/><circle cx="571.2" cy="539.3" r="5.5" fill="#e51e10"/><circle cx="571.2" cy="539.3" r="5.5" fill="#e51e10"/><circle cx="571.2" cy="539.3" r="5.5" fill="#e51e10"/>
<circle cx="624.4" cy="539.3" r="5.5" fill="#e51e10"/><circle cx="624.4" cy="539.3" r="5.5" fill="#e51e10"/><circle cx="624.4" cy="539.3" r="5.5" fill="#e51e10"/><circle cx="624.4" cy="539.3" r="5.5" fill="#e51e10"/>
<circle cx="677.5" cy="539.3" r="5.5" fill="#e51e10"/><circle cx="677.5" cy="539.3" r="5.5" fill="#e51e10"/><circle cx="677.5" cy="539.3" r="5.5" fill="#e51e10"/><circle cx="677.5" cy="539.3" r="5.5" fill="#e51e10"/>
<circle cx="730.6" cy="539.3" r="5.5" fill="#e51e10"/><circle cx="730.6" cy="539.3" r="5.5" fill="#e51e10"/><circle cx="730.6" cy="539.3" r="5.5" fill="#e51e10"/><circle cx="730.6" cy="539.3" r="5.5" fill="#e51e10"/>
<circle cx="783.7" cy="539.3" r="5.5" fill="#e51e10"/><circle cx="783.7" cy="539.3" r="5.5" fill="#e51e10"/><circle cx="783.7" cy="539.3" r="5.5" fill="#e51e10"/><circle cx="783.7" cy="539.3" r="5.5" fill="#e51e10"/>
<circle cx="836.9" cy="539.3" r="5.5" fill="#e51e10"/><circle cx="836.9" cy="539.3" r="5.5" fill="#e51e10"/><circle cx="836.9" cy="539.3" r="5.5" fill="#e51e10"/><circle cx="836.9" cy="539.3" r="5.5" fill="#e51e10"/>
<circle cx="890.0" cy="539.3" r="5.5" fill="#e51e10"/><circle cx="890.0" cy="539.3" r="5.5" fill="#e51e10"/><circle cx="890.0" cy="539.3" r="5.5" fill="#e51e10"/><circle cx="890.0" cy="539.3" r="5.5" fill="#e51e10"/>
<circle cx="943.1" cy="539.3" r="5.5" fill="#e51e10"/><circle cx="943.1" cy="539.3" r="5.5" fill="#e51e10"/><circle cx="943.1" cy="539.3" r="5.5" fill="#e51e10"/><circle cx="943.1" cy="539.3" r="5.5" fill="#e51e10"/>
<circle cx="996.2" cy="539.3" r="5.5" fill="#e51e10"/><circle cx="996.2" cy="539.3" r="5.5" fill="#e51e10"/><circle cx="996.2" cy="539.3" r="5.5" fill="#e51e10"/><circle cx="996.2" cy="539.3" r="5.5" fill="#e51e10"/>
<circle cx="1049.3" cy="539.3" r="5.5" fill="#e51e10"/><circle cx="1049.3" cy="539.3" r="5.5" fill="#e51e10"/><circle cx="1049.3" cy="539.3" r="5.5" fill="#e51e10"/><circle cx="1049.3" cy="539.3" r="5.5" fill="#e51e10"/>
<circle cx="1102.5" cy="539.3" r="5.5" fill="#e51e10"/><circle cx="1102.5" cy="539.3" r="5.5" fill="#e51e10"/><circle cx="1102.5" cy="539.3" r="5.5" fill="#e51e10"/><circle cx="1102.5" cy="539.3" r="5.5" fill="#e51e10"/>
<circle cx="1155.6" cy="539.3" r="5.5" fill="#e51e10"/><circle cx="1155.6" cy="539.3" r="5.5" fill="#e51e10"/><circle cx="1155.6" cy="539.3" r="5.5" fill="#e51e10"/><circle cx="1155.6" cy="539.3" r="5.5" fill="#e51e10"/>
<circle cx="1208.7" cy="539.3" r="5.5" fill="#e51e10"/><circle cx="1208.7" cy="539.3" r="5.5" fill="#e51e10"/><circle cx="1208.7" cy="539.3" r="5.5" fill="#e51e10"/><circle cx="1208.7" cy="539.3" r="5.5" fill="#e51e10"/>
<circle cx="1261.8" cy="539.3" r="5.5" fill="#e51e10"/><circle cx="1261.8" cy="539.3" r="5.5" fill="#e51e10"/><circle cx="1261.8" cy="539.3" r="5.5" fill="#e51e10"/><circle cx="1261.8" cy="539.3" r="5.5" fill="#e51e10"/>
<circle cx="1315.0" cy="539.3" r="5.5" fill="#e51e10"/><circle cx="1315.0" cy="539.3" r="5.5" fill="#e51e10"/><circle cx="1315.0" cy="539.3" r="5.5" fill="#e51e10"/><circle cx="1315.0" cy="539.3" r="5.5" fill="#e51e10"/>
<circle cx="96.3" cy="539.3" r="5.5" fill="#e51e10"/><circle cx="96.3" cy="539.3" r="5.5" fill="#e51e10"/><circle cx="96.3" cy="539.3" r="5.5" fill="#e51e10"/><circle cx="96.3" cy="539.3" r="5.5" fill="#e51e10"/><path d="M96.3 532.8 v1.5 M96.3 545.8 v-1.5 M89.8 539.3 h1.5 M102.8 539.3 h-1.5" stroke="#e51e10" stroke-width="1"/>
<circle cx="143.4" cy="539.3" r="5.5" fill="#e51e10"/><circle cx="143.4" cy="539.3" r="5.5" fill="#e51e10"/><circle cx="143.4" cy="539.3" r="5.5" fill="#e51e10"/><circle cx="143.4" cy="539.3" r="5.5" fill="#e51e10"/><path d="M143.4 532.8 v1.5 M143.4 545.8 v-1.5 M136.9 539.3 h1.5 M149.9 539.3 h-1.5" stroke="#e51e10" stroke-width="1"/>
<circle cx="202.3" cy="539.3" r="5.5" fill="#e51e10"/><circle cx="202.3" cy="539.3" r="5.5" fill="#e51e10"/><circle cx="202.3" cy="539.3" r="5.5" fill="#e51e10"/><circle cx="202.3" cy="539.3" r="5.5" fill="#e51e10"/><path d="M202.3 532.8 v1.5 M202.3 545.8 v-1.5 M195.8 539.3 h1.5 M208.8 539.3 h-1.5" stroke="#e51e10" stroke-width="1"/>
<circle cx="249.0" cy="539.3" r="5.5" fill="#e51e10"/><circle cx="249.0" cy="539.3" r="5.5" fill="#e51e10"/><circle cx="249.0" cy="539.3" r="5.5" fill="#e51e10"/><circle cx="249.0" cy="539.3" r="5.5" fill="#e51e10"/><path d="M249.0 532.8 v1.5 M249.0 545.8 v-1.5 M242.5 539.3 h1.5 M255.5 539.3 h-1.5" stroke="#e51e10" stroke-width="1"/>
<circle cx="256.0" cy="539.3" r="5.5" fill="#e51e10"/><circle cx="256.0" cy="539.3" r="5.5" fill="#e51e10"/><circle cx="256.0" cy="539.3" r="5.5" fill="#e51e10"/><circle cx="256.0" cy="539.3" r="5.5" fill="#e51e10"/><path d="M256.0 532.8 v1.5 M256.0 545.8 v-1.5 M249.5 539.3 h1.5 M262.5 539.3 h-1.5" stroke="#e51e10" stroke-width="1"/>
<circle cx="302.1" cy="539.3" r="5.5" fill="#e51e10"/><circle cx="302.1" cy="539.3" r="5.5" fill="#e51e10"/><circle cx="302.1" cy="539.3" r="5.5" fill="#e51e10"/><circle cx="302.1" cy="539.3" r="5.5" fill="#e51e10"/><path d="M302.1 532.8 v1.5 M302.1 545.8 v-1.5 M295.6 539.3 h1.5 M308.6 539.3 h-1.5" stroke="#e51e10" stroke-width="1"/>
<circle cx="309.1" cy="539.3" r="5.5" fill="#e51e10"/><circle cx="309.1" cy="539.3" r="5.5" fill="#e51e10"/><circle cx="309.1" cy="539.3" r="5.5" fill="#e51e10"/><circle cx="309.1" cy="539.3" r="5.5" fill="#e51e10"/><path d="M309.1 532.8 v1.5 M309.1 545.8 v-1.5 M302.6 539.3 h1.5 M315.6 539.3 h-1.5" stroke="#e51e10" stroke-width="1"/>
<circle cx="355.2" cy="539.3" r="5.5" fill="#e51e10"/><circle cx="355.2" cy="539.3" r="5.5" fill="#e51e10"/><circle cx="355.2" cy="539.3" r="5.5" fill="#e51e10"/><circle cx="355.2" cy="539.3" r="5.5" fill="#e51e10"/><path d="M355.2 532.8 v1.5 M355.2 545.8 v-1.5 M348.7 539.3 h1.5 M361.7 539.3 h-1.5" stroke="#e51e10" stroke-width="1"/>
<circle cx="362.2" cy="539.3" r="5.5" fill="#e51e10"/><circle cx="362.2" cy="539.3" r="5.5" fill="#e51e10"/><circle cx="362.2" cy="539.3" r="5.5" fill="#e51e10"/><circle cx="362.2" cy="539.3" r="5.5" fill="#e51e10"/><path d="M362.2 532.8 v1.5 M362.2 545.8 v-1.5 M355.7 539.3 h1.5 M368.7 539.3 h-1.5" stroke="#e51e10" stroke-width="1"/>
<circle cx="408.4" cy="539.3" r="5.5" fill="#e51e10"/><circle cx="408.4" cy="539.3" r="5.5" fill="#e51e10"/><circle cx="408.4" cy="539.3" r="5.5" fill="#e51e10"/><circle cx="408.4" cy="539.3" r="5.5" fill="#e51e10"/><path d="M408.4 532.8 v1.5 M408.4 545.8 v-1.5 M401.9 539.3 h1.5 M414.9 539.3 h-1.5" stroke="#e51e10" stroke-width="1"/>
<circle cx="415.4" cy="539.3" r="5.5" fill="#e51e10"/><circle cx="415.4" cy="539.3" r="5.5" fill="#e51e10"/><circle cx="415.4" cy="539.3" r="5.5" fill="#e51e10"/><circle cx="415.4" cy="539.3" r="5.5" fill="#e51e10"/><path d="M415.4 532.8 v1.5 M415.4 545.8 v-1.5 M408.9 539.3 h1.5 M421.9 539.3 h-1.5" stroke="#e51e10" stroke-width="1"/>
<circle cx="461.5" cy="539.3" r="5.5" fill="#e51e10"/><circle cx="461.5" cy="539.3" r="5.5" fill="#e51e10"/><circle cx="461.5" cy="539.3" r="5.5" fill="#e51e10"/><circle cx="461.5" cy="539.3" r="5.5" fill="#e51e10"/><path d="M461.5 532.8 v1.5 M461.5 545.8 v-1.5 M455.0 539.3 h1.5 M468.0 539.3 h-1.5" stroke="#e51e10" stroke-width="1"/>
<circle cx="468.5" cy="539.3" r="5.5" fill="#e51e10"/><circle cx="468.5" cy="539.3" r="5.5" fill="#e51e10"/><circle cx="468.5" cy="539.3" r="5.5" fill="#e51e10"/><circle cx="468.5" cy="539.3" r="5.5" fill="#e51e10"/><path d="M468.5 532.8 v1.5 M468.5 545.8 v-1.5 M462.0 539.3 h1.5 M475.0 539.3 h-1.5" stroke="#e51e10" stroke-width="1"/>
<circle cx="514.6" cy="539.3" r="5.5" fill="#e51e10"/><circle cx="514.6" cy="539.3" r="5.5" fill="#e51e10"/><circle cx="514.6" cy="539.3" r="5.5" fill="#e51e10"/><circle cx="514.6" cy="539.3" r="5.5" fill="#e51e10"/><path d="M514.6 532.8 v1.5 M514.6 545.8 v-1.5 M508.1 539.3 h1.5 M521.1 539.3 h-1.5" stroke="#e51e10" stroke-width="1"/>
<circle cx="521.6" cy="539.3" r="5.5" fill="#e51e10"/><circle cx="521.6" cy="539.3" r="5.5" fill="#e51e10"/><circle cx="521.6" cy="539.3" r="5.5" fill="#e51e10"/><circle cx="521.6" cy="539.3" r="5.5" fill="#e51e10"/><path d="M521.6 532.8 v1.5 M521.6 545.8 v-1.5 M515.1 539.3 h1.5 M528.1 539.3 h-1.5" stroke="#e51e10" stroke-width="1"/>
<circle cx="567.7" cy="539.3" r="5.5" fill="#e51e10"/><circle cx="567.7" cy="539.3" r="5.5" fill="#e51e10"/><circle cx="567.7" cy="539.3" r="5.5" fill="#e51e10"/><circle cx="567.7" cy="539.3" r="5.5" fill="#e51e10"/><path d="M567.7 532.8 v1.5 M567.7 545.8 v-1.5 M561.2 539.3 h1.5 M574.2 539.3 h-1.5" stroke="#e51e10" stroke-width="1"/>
<circle cx="574.7" cy="539.3" r="5.5" fill="#e51e10"/><circle cx="574.7" cy="539.3" r="5.5" fill="#e51e10"/><circle cx="574.7" cy="539.3" r="5.5" fill="#e51e10"/><circle cx="574.7" cy="539.3" r="5.5" fill="#e51e10"/><path d="M574.7 532.8 v1.5 M574.7 545.8 v-1.5 M568.2 539.3 h1.5 M581.2 539.3 h-1.5" stroke="#e51e10" stroke-width="1"/>
<circle cx="620.9" cy="539.3" r="5.5" fill="#e51e10"/><circle cx="620.9" cy="539.3" r="5.5" fill="#e51e10"/><circle cx="620.9" cy="539.3" r="5.5" fill="#e51e10"/><circle cx="620.9" cy="539.3" r="5.5" fill="#e51e10"/><path d="M620.9 532.8 v1.5 M620.9 545.8 v-1.5 M614.4 539.3 h1.5 M627.4 539.3 h-1.5" stroke="#e51e10" stroke-width="1"/>
<circle cx="627.9" cy="539.3" r="5.5" fill="#e51e10"/><circle cx="627.9" cy="539.3" r="5.5" fill="#e51e10"/><circle cx="627.9" cy="539.3" r="5.5" fill="#e51e10"/><circle cx="627.9" cy="539.3" r="5.5" fill="#e51e10"/><path d="M627.9 532.8 v1.5 M627.9 545.8 v-1.5 M621.4 539.3 h1.5 M634.4 539.3 h-1.5" stroke="#e51e10" stroke-width="1"/>
<circle cx="674.0" cy="539.3" r="5.5" fill="#e51e10"/><circle cx="674.0" cy="539.3" r="5.5" fill="#e51e10"/><circle cx="674.0" cy="539.3" r="5.5" fill="#e51e10"/><circle cx="674.0" cy="539.3" r="5.5" fill="#e51e10"/><path d="M674.0 532.8 v1.5 M674.0 545.8 v-1.5 M667.5 539.3 h1.5 M680.5 539.3 h-1.5" stroke="#e51e10" stroke-width="1"/>
<circle cx="681.0" cy="539.3" r="5.5" fill="#e51e10"/><circle cx="681.0" cy="539.3" r="5.5" fill="#e51e10"/><circle cx="681.0" cy="539.3" r="5.5" fill="#e51e10"/><circle cx="681.0" cy="539.3" r="5.5" fill="#e51e10"/><path d="M681.0 532.8 v1.5 M681.0 545.8 v-1.5 M674.5 539.3 h1.5 M687.5 539.3 h-1.5" stroke="#e51e10" stroke-width="1"/>
<circle cx="727.1" cy="539.3" r="5.5" fill="#e51e10"/><circle cx="727.1" cy="539.3" r="5.5" fill="#e51e10"/><circle cx="727.1" cy="539.3" r="5.5" fill="#e51e10"/><circle cx="727.1" cy="539.3" r="5.5" fill="#e51e10"/><path d="M727.1 532.8 v1.5 M727.1 545.8 v-1.5 M720.6 539.3 h1.5 M733.6 539.3 h-1.5" stroke="#e51e10" stroke-width="1"/>
<circle cx="734.1" cy="539.3" r="5.5" fill="#e51e10"/><circle cx="734.1" cy="539.3" r="5.5" fill="#e51e10"/><circle cx="734.1" cy="539.3" r="5.5" fill="#e51e10"/><circle cx="734.1" cy="539.3" r="5.5" fill="#e51e10"/><path d="M734.1 532.8 v1.5 M734.1 545.8 v-1.5 M727.6 539.3 h1.5 M740.6 539.3 h-1.5" stroke="#e51e10" stroke-width="1"/>
<circle cx="780.2" cy="539.3" r="5.5" fill="#e51e10"/><circle cx="780.2" cy="539.3" r="5.5" fill="#e51e10"/><circle cx="780.2" cy="539.3" r="5.5" fill="#e51e10"/><circle cx="780.2" cy="539.3" r="5.5" fill="#e51e10"/><path d="M780.2 532.8 v1.5 M780.2 545.8 v-1.5 M773.7 539.3 h1.5 M786.7 539.3 h-1.5" stroke="#e51e10" stroke-width="1"/>
<circle cx="787.2" cy="539.3" r="5.5" fill="#e51e10"/><circle cx="787.2" cy="539.3" r="5.5" fill="#e51e10"/><circle cx="787.2" cy="539.3" r="5.5" fill="#e51e10"/><circle cx="787.2" cy="539.3" r="5.5" fill="#e51e10"/><path d="M787.2 532.8 v1.5 M787.2 545.8 v-1.5 M780.7 539.3 h1.5 M793.7 539.3 h-1.5" stroke="#e51e10" stroke-width="1"/>
<circle cx="833.4" cy="539.3" r="5.5" fill="#e51e10"/><circle cx="833.4" cy="539.3" r="5.5" fill="#e51e10"/><circle cx="833.4" cy="539.3" r="5.5" fill="#e51e10"/><circle cx="833.4" cy="539.3" r="5.5" fill="#e51e10"/><path d="M833.4 532.8 v1.5 M833.4 545.8 v-1.5 M826.9 539.3 h1.5 M839.9 539.3 h-1.5" stroke="#e51e10" stroke-width="1"/>
<circle cx="840.4" cy="539.3" r="5.5" fill="#e51e10"/><circle cx="840.4" cy="539.3" r="5.5" fill="#e51e10"/><circle cx="840.4" cy="539.3" r="5.5" fill="#e51e10"/><circle cx="840.4" cy="539.3" r="5.5" fill="#e51e10"/><path d="M840.4 532.8 v1.5 M840.4 545.8 v-1.5 M833.9 539.3 h1.5 M846.9 539.3 h-1.5" stroke="#e51e10" stroke-width="1"/>
<circle cx="886.5" cy="539.3" r="5.5" fill="#e51e10"/><circle cx="886.5" cy="539.3" r="5.5" fill="#e51e10"/><circle cx="886.5" cy="539.3" r="5.5" fill="#e51e10"/><circle cx="886.5" cy="539.3" r="5.5" fill="#e51e10"/><path d="M886.5 532.8 v1.5 M886.5 545.8 v-1.5 M880.0 539.3 h1.5 M893.0 539.3 h-1.5" stroke="#e51e10" stroke-width="1"/>
<circle cx="893.5" cy="539.3" r="5.5" fill="#e51e10"/><circle cx="893.5" cy="539.3" r="5.5" fill="#e51e10"/><circle cx="893.5" cy="539.3" r="5.5" fill="#e51e10"/><circle cx="893.5" cy="539.3" r="5.5" fill="#e51e10"/><path d="M893.5 532.8 v1.5 M893.5 545.8 v-1.5 M887.0 539.3 h1.5 M900.0 539.3 h-1.5" stroke="#e51e10" stroke-width="1"/>
<circle cx="939.6" cy="539.3" r="5.5" fill="#e51e10"/><circle cx="939.6" cy="539.3" r="5.5" fill="#e51e10"/><circle cx="939.6" cy="539.3" r="5.5" fill="#e51e10"/><circle cx="939.6" cy="539.3" r="5.5" fill="#e51e10"/><path d="M939.6 532.8 v1.5 M939.6 545.8 v-1.5 M933.1 539.3 h1.5 M946.1 539.3 h-1.5" stroke="#e51e10" stroke-width="1"/>
<circle cx="946.6" cy="539.3" r="5.5" fill="#e51e10"/><circle cx="946.6" cy="539.3" r="5.5" fill="#e51e10"/><circle cx="946.6" cy="539.3" r="5.5" fill="#e51e10"/><circle cx="946.6" cy="539.3" r="5.5" fill="#e51e10"/><path d="M946.6 532.8 v1.5 M946.6 545.8 v-1.5 M940.1 539.3 h1.5 M953.1 539.3 h-1.5" stroke="#e51e10" stroke-width="1"/>
<circle cx="992.7" cy="539.3" r="5.5" fill="#e51e10"/><circle cx="992.7" cy="539.3" r="5.5" fill="#e51e10"/><circle cx="992.7" cy="539.3" r="5.5" fill="#e51e10"/><circle cx="992.7" cy="539.3" r="5.5" fill="#e51e10"/><path d="M992.7 532.8 v1.5 M992.7 545.8 v-1.5 M986.2 539.3 h1.5 M999.2 539.3 h-1.5" stroke="#e51e10" stroke-width="1"/>
<circle cx="999.7" cy="539.3" r="5.5" fill="#e51e10"/><circle cx="999.7" cy="539.3" r="5.5" fill="#e51e10"/><circle cx="999.7" cy="539.3" r="5.5" fill="#e51e10"/><circle cx="999.7" cy="539.3" r="5.5" fill="#e51e10"/><path d="M999.7 532.8 v1.5 M999.7 545.8 v-1.5 M993.2 539.3 h1.5 M1006.2 539.3 h-1.5" stroke="#e51e10" stroke-width="1"/>
<circle cx="1045.8" cy="539.3" r="5.5" fill="#e51e10"/><circle cx="1045.8" cy="539.3" r="5.5" fill="#e51e10"/><circle cx="1045.8" cy="539.3" r="5.5" fill="#e51e10"/><circle cx="1045.8" cy="539.3" r="5.5" fill="#e51e10"/><path d="M1045.8 532.8 v1.5 M1045.8 545.8 v-1.5 M1039.3 539.3 h1.5 M1052.3 539.3 h-1.5" stroke="#e51e10" stroke-width="1"/>
<circle cx="1052.8" cy="539.3" r="5.5" fill="#e51e10"/><circle cx="1052.8" cy="539.3" r="5.5" fill="#e51e10"/><circle cx="1052.8" cy="539.3" r="5.5" fill="#e51e10"/><circle cx="1052.8" cy="539.3" r="5.5" fill="#e51e10"/><path d="M1052.8 532.8 v1.5 M1052.8 545.8 v-1.5 M1046.3 539.3 h1.5 M1059.3 539.3 h-1.5" stroke="#e51e10" stroke-width="1"/>
<circle cx="1099.0" cy="539.3" r="5.5" fill="#e51e10"/><circle cx="1099.0" cy="539.3" r="5.5" fill="#e51e10"/><circle cx="1099.0" cy="539.3" r="5.5" fill="#e51e10"/><circle cx="1099.0" cy="539.3" r="5.5" fill="#e51e10"/><path d="M1099.0 532.8 v1.5 M1099.0 545.8 v-1.5 M1092.5 539.3 h1.5 M1105.5 539.3 h-1.5" stroke="#e51e10" stroke-width="1"/>
<circle cx="1106.0" cy="539.3" r="5.5" fill="#e51e10"/><circle cx="1106.0" cy="539.3" r="5.5" fill="#e51e10"/><circle cx="1106.0" cy="539.3" r="5.5" fill="#e51e10"/><circle cx="1106.0" cy="539.3" r="5.5" fill="#e51e10"/><path d="M1106.0 532.8 v1.5 M1106.0 545.8 v-1.5 M1099.5 539.3 h1.5 M1112.5 539.3 h-1.5" stroke="#e51e10" stroke-width="1"/>
<circle cx="1152.1" cy="539.3" r="5.5" fill="#e51e10"/><circle cx="1152.1" cy="539.3" r="5.5" fill="#e51e10"/><circle cx="1152.1" cy="539.3" r="5.5" fill="#e51e10"/><circle cx="1152.1" cy="539.3" r="5.5" fill="#e51e10"/><path d="M1152.1 532.8 v1.5 M1152.1 545.8 v-1.5 M1145.6 539.3 h1.5 M1158.6 539.3 h-1.5" stroke="#e51e10" stroke-width="1"/>
<circle cx="1159.1" cy="539.3" r="5.5" fill="#e51e10"/><circle cx="1159.1" cy="539.3" r="5.5" fill="#e51e10"/><circle cx="1159.1" cy="539.3" r="5.5" fill="#e51e10"/><circle cx="1159.1" cy="539.3" r="5.5" fill="#e51e10"/><path d="M1159.1 532.8 v1.5 M1159.1 545.8 v-1.5 M1152.6 539.3 h1.5 M1165.6 539.3 h-1.5" stroke="#e51e10" stroke-width="1"/>
<circle cx="1205.2" cy="539.3" r="5.5" fill="#e51e10"/><circle cx="1205.2" cy="539.3" r="5.5" fill="#e51e10"/><circle cx="1205.2" cy="539.3" r="5.5" fill="#e51e10"/><circle cx="1205.2" cy="539.3" r="5.5" fill="#e51e10"/><path d="M1205.2 532.8 v1.5 M1205.2 545.8 v-1.5 M1198.7 539.3 h1.5 M1211.7 539.3 h-1.5" stroke="#e51e10" stroke-width="1"/>
<circle cx="1212.2" cy="539.3" r="5.5" fill="#e51e10"/><circle cx="1212.2" cy="539.3" r="5.5" fill="#e51e10"/><circle cx="1212.2" cy="539.3" r="5.5" fill="#e51e10"/><circle cx="1212.2" cy="539.3" r="5.5" fill="#e51e10"/><path d="M1212.2 532.8 v1.5 M1212.2 545.8 v-1.5 M1205.7 539.3 h1.5 M1218.7 539.3 h-1.5" stroke="#e51e10" stroke-width="1"/>
<circle cx="1258.3" cy="539.3" r="5.5" fill="#e51e10"/><circle cx="1258.3" cy="539.3" r="5.5" fill="#e51e10"/><circle cx="1258.3" cy="539.3" r="5.5" fill="#e51e10"/><circle cx="1258.3" cy="539.3" r="5.5" fill="#e51e10"/><path d="M1258.3 532.8 v1.5 M1258.3 545.8 v-1.5 M1251.8 539.3 h1.5 M1264.8 539.3 h-1.5" stroke="#e51e10" stroke-width="1"/>
<circle cx="1265.3" cy="539.3" r="5.5" fill="#e51e10"/><circle cx="1265.3" cy="539.3" r="5.5" fill="#e51e10"/><circle cx="1265.3" cy="539.3" r="5.5" fill="#e51e10"/><circle cx="1265.3" cy="539.3" r="5.5" fill="#e51e10"/><path d="M1265.3 532.8 v1.5 M1265.3 545.8 v-1.5 M1258.8 539.3 h1.5 M1271.8 539.3 h-1.5" stroke="#e51e10" stroke-width="1"/>
<circle cx="1311.5" cy="539.3" r="5.5" fill="#e51e10"/><circle cx="1311.5" cy="539.3" r="5.5" fill="#e51e10"/><circle cx="1311.5" cy="539.3" r="5.5" fill="#e51e10"/><circle cx="1311.5" cy="539.3" r="5.5" fill="#e51e10"/><path d="M1311.5 532.8 v1.5 M1311.5 545.8 v-1.5 M1305.0 539.3 h1.5 M1318.0 539.3 h-1.5" stroke="#e51e10" stroke-width="1"/>
<circle cx="1318.5" cy="539.3" r="5.5" fill="#e51e10"/><circle cx="1318.5" cy="539.3" r="5.5" fill="#e51e10"/><circle cx="1318.5" cy="539.3" r="5.5" fill="#e51e10"/><circle cx="1318.5" cy="539.3" r="5.5" fill="#e51e10"/><path d="M1318.5 532.8 v1.5 M1318.5 545.8 v-1.5 M1312.0 539.3 h1.5 M1325.0 539.3 h-1.5" stroke="#e51e10" stroke-width="1"/>
<circle cx="1365.5" cy="539.3" r="5.5" fill="#e51e10"/><circle cx="1365.5" cy="539.3" r="5.5" fill="#e51e10"/><circle cx="1365.5" cy="539.3" r="5.5" fill="#e51e10"/><circle cx="1365.5" cy="539.3" r="5.5" fill="#e51e10"/><path d="M1365.5 532.8 v1.5 M1365.5 545.8 v-1.5 M1359.0 539.3 h1.5 M1372.0 539.3 h-1.5" stroke="#e51e10" stroke-width="1"/>
<polygon points="245.0,456.2 236.7,468.4 253.3,468.4" fill="none" stroke="#000" stroke-width="1"/>
<polygon points="331.1,456.2 322.8,468.4 339.4,468.4" fill="none" stroke="#000" stroke-width="1"/>
<rect x="1001.9" y="480.8" width="13" height="13" fill="#f0e442"/>
<path d="M94.5 57.5 H1369.5 V539.5 H94.5 Z" fill="none" stroke="#000" stroke-width="1"/>
<path d="M94.5 421.5 h6.5 M1369.5 421.5 h-6.5 M94.5 304.5 h6.5 M1369.5 304.5 h-6.5 M94.5 186.5 h6.5 M1369.5 186.5 h-6.5 M94.5 69.5 h6.5 M1369.5 69.5 h-6.5 M147.5 57.5 v3.5 M200.5 57.5 v3.5 M253.5 57.5 v3.5 M307.5 57.5 v3.5 M360.5 57.5 v3.5 M413.5 57.5 v3.5 M466.5 57.5 v3.5 M519.5 57.5 v3.5 M572.5 57.5 v3.5 M625.5 57.5 v3.5 M678.5 57.5 v3.5 M732.5 57.5 v3.5 M785.5 57.5 v3.5 M838.5 57.5 v3.5 M891.5 57.5 v3.5 M944.5 57.5 v3.5 M997.5 57.5 v3.5 M1050.5 57.5 v3.5 M1103.5 57.5 v3.5 M1157.5 57.5 v3.5 M1210.5 57.5 v3.5 M1263.5 57.5 v3.5 M1316.5 57.5 v3.5" stroke="#000" stroke-width="1" fill="none"/>
<text x="729.5" y="32.0" text-anchor="middle" textLength="524.04" lengthAdjust="spacing" xml:space="preserve">pi23 May 18  near/far ICMP/TCP ping and curl times [No msmt 1AM-2AM]</text>
<text x="729.5" y="590.0" text-anchor="middle" textLength="713.54" lengthAdjust="spacing" xml:space="preserve">&lt;-START at 2AM Yday, right to 12AM Tday-&gt;, then wrap left to 1AM Tday&lt;- [ignore connecting lines]</text>
<text transform="translate(17,298.8) rotate(-90)" text-anchor="middle">msec</text>
<text x="81.0" y="542.2" text-anchor="end" xml:space="preserve">0</text>
<text x="81.0" y="424.9" text-anchor="end" xml:space="preserve">500</text>
<text x="81.0" y="307.8" text-anchor="end" xml:space="preserve">1000</text>
<text x="81.0" y="190.1" text-anchor="end" xml:space="preserve">1500</text>
<text x="81.0" y="73.1" text-anchor="end" xml:space="preserve">2000</text>
<text x="91.8" y="562.0" text-anchor="middle" xml:space="preserve">00:00</text>
<text x="197.4" y="562.0" text-anchor="middle" xml:space="preserve">02:00</text>
<text x="305.0" y="562.0" text-anchor="middle" xml:space="preserve">04:00</text>
<text x="411.2" y="562.0" text-anchor="middle" xml:space="preserve">06:00</text>
<text x="517.0" y="562.0" text-anchor="middle" xml:space="preserve">08:00</text>
<text x="623.7" y="562.0" text-anchor="middle" xml:space="preserve">10:00</text>
<text x="730.6" y="562.0" text-anchor="middle" xml:space="preserve">12:00</text>
<text x="837.0" y="562.0" text-anchor="middle" xml:space="preserve">14:00</text>
<text x="943.0" y="562.0" text-anchor="middle" xml:space="preserve">16:00</text>
<text x="1048.8" y="562.0" text-anchor="middle" xml:space="preserve">18:00</text>
<text x="1156.0" y="562.0" text-anchor="middle" xml:space="preserve">20:00</text>
<text x="1262.2" y="562.0" text-anchor="middle" xml:space="preserve">22:00</text>
<text x="1367.1" y="562.0" text-anchor="middle" xml:space="preserve">00:00</text>
<text x="122.5" y="79.7" font-weight="bold" textLength="82.56" lengthAdjust="spacing" xml:space="preserve">GENERAL:</text>
<text x="120.0" y="99.7" textLength="568.33" lengthAdjust="spacing" xml:space="preserve">near ICMP[ping] delays -Ypingresult.txt last hour target 71.155.29.48 hop#3 ---&gt;</text>
<text x="120.0" y="118.9" textLength="410.75" lengthAdjust="spacing" xml:space="preserve">TCP ping delays -YTimetcpping.txt- using Top100Web---&gt;</text>
<text x="120.0" y="138.1" textLength="484.42" lengthAdjust="spacing" xml:space="preserve">deep ICMP[ping] delays -YCustPingSiteTimes.txt- [X generic rpi]---&gt;</text>
<text x="120.0" y="157.3" xml:space="preserve">web curl times -Ycurltime.txt- using www.google.com---&gt;</text>
<text x="120.0" y="176.5" textLength="482.57" lengthAdjust="spacing" xml:space="preserve">DNS query times -Ycurldnstime.txt- using router? 192.168.1.254---&gt;</text>
<text x="120.0" y="195.7" textLength="307.73" lengthAdjust="spacing" xml:space="preserve">Hyperping timeouts -YHPpingresult.txt- ---&gt;</text>
<text x="120.0" y="214.9" textLength="248.02" lengthAdjust="spacing" xml:space="preserve">Last rpi boot: 2025-05-01 01:17:26</text>
<text x="203.5" y="234.1" textLength="431.89" lengthAdjust="spacing" xml:space="preserve">-DNS query, web curl are twice/hr, beginnng and end of hour</text>
<text x="203.5" y="253.3" textLength="486.94" lengthAdjust="spacing" xml:space="preserve">-near,deep ICMP pings are once/min until timeout[1000 msec], then:</text>
<text x="212.5" y="272.5" textLength="460.70" lengthAdjust="spacing" xml:space="preserve">-Hyperpings [6/min] initiated; [vertical stacked] ticks are timeouts</text>
<text x="203.5" y="291.7" textLength="429.79" lengthAdjust="spacing" xml:space="preserve">-TCP pings are once/min [if plotted][use Ytcpoff for timeouts]</text>
<text x="122.5" y="320.7" font-weight="bold" textLength="100.33" lengthAdjust="spacing" xml:space="preserve">ANOMALIES:</text>
<text x="209.0" y="340.7" textLength="182.43" lengthAdjust="spacing" xml:space="preserve">(850)PingTarget is router!</text>
<text x="209.0" y="360.0" textLength="121.87" lengthAdjust="spacing" xml:space="preserve">(785)ipv6 failure!</text>
<text x="209.0" y="379.0" textLength="225.69" lengthAdjust="spacing" xml:space="preserve">(500+)Hyperping Timeouts ----&gt;</text>
<text x="209.0" y="398.3" textLength="237.55" lengthAdjust="spacing" xml:space="preserve">(1000)Near ICMP Timeout spikes</text>
<text x="209.0" y="417.7" textLength="218.57" lengthAdjust="spacing" xml:space="preserve">(550)Ping Target Changes ---&gt;</text>
<text x="209.0" y="436.7" textLength="200.18" lengthAdjust="spacing" xml:space="preserve">(450)OFFLINE STATE -----&gt;</text>
<text x="209.0" y="456.0" textLength="219.62" lengthAdjust="spacing" xml:space="preserve">(400)Reboot/powercycle? ----&gt;</text>
<text x="209.0" y="475.7" textLength="225.82" lengthAdjust="spacing" xml:space="preserve">(320)Deep ICMP Timeouts ----&gt;</text>
<text x="209.0" y="495.0" textLength="215.95" lengthAdjust="spacing" xml:space="preserve">(220)TCP ping Timeouts -----&gt;</text>
<polygon points="200.4,340.7 192.2,328.7 208.6,328.7" fill="none" stroke="#56b4e9" stroke-width="1"/>
<polygon points="200.4,359.7 192.2,347.7 208.6,347.7" fill="none" stroke="#e69f00" stroke-width="1"/>
<path d="M193.9 371.5 h13 M200.4 365.0 v13" stroke="#009e73" stroke-width="1.1"/>
<polygon points="200.4,402.4 191.8,415.1 209.0,415.1" fill="#9400d3"/>
<rect x="194.6" y="427.2" width="12" height="12" fill="none" stroke="#e69f00" stroke-width="1.1"/>
<polygon points="200.4,456.2 192.1,468.4 208.7,468.4" fill="none" stroke="#000" stroke-width="1"/>
<rect x="194.0" y="480.8" width="13" height="13" fill="#f0e442"/>
<text x="1291.0" y="76.7" text-anchor="end" textLength="182.24" lengthAdjust="spacing" xml:space="preserve">"Ypingresult.txt" using 1:2</text>
<text x="1291.0" y="95.7" text-anchor="end" textLength="200.01" lengthAdjust="spacing" xml:space="preserve">"YTimetcpping.txt" using 1:2</text>
<text x="1291.0" y="114.6" text-anchor="end" textLength="248.50" lengthAdjust="spacing" xml:space="preserve">"YCustPingSiteTimes.txt" using 1:2</text>
<text x="1291.0" y="133.6" text-anchor="end" textLength="195.51" lengthAdjust="spacing" xml:space="preserve">"Yofflineresult.txt" using 1:2</text>
<text x="1291.0" y="152.5" text-anchor="end" textLength="207.14" lengthAdjust="spacing" xml:space="preserve">"Ytcpoff_record.txt" using 1:2</text>
<text x="1291.0" y="171.4" text-anchor="end" textLength="170.47" lengthAdjust="spacing" xml:space="preserve">"Ycurltime.txt" using 1:2</text>
<text x="1291.0" y="190.4" text-anchor="end" textLength="195.86" lengthAdjust="spacing" xml:space="preserve">"Ycurldnstime.txt" using 1:2</text>
<text x="1291.0" y="209.4" text-anchor="end" textLength="236.18" lengthAdjust="spacing" xml:space="preserve">"YCustPingTimeout.txt" using 1:2</text>
<text x="1291.0" y="228.3" text-anchor="end" textLength="216.19" lengthAdjust="spacing" xml:space="preserve">"Ypingtargetchange" using 1:2</text>
<text x="1291.0" y="247.2" text-anchor="end" textLength="206.06" lengthAdjust="spacing" xml:space="preserve">"YHPpingresult.txt" using 1:2</text>
<text x="1291.0" y="266.2" text-anchor="end" textLength="220.01" lengthAdjust="spacing" xml:space="preserve">"YpingtargetISrouter" using 1:2</text>
<text x="1291.0" y="285.1" text-anchor="end" textLength="139.86" lengthAdjust="spacing" xml:space="preserve">"Ynoipv6" using 1:2</text>
<path d="M1303 73.5 H1350" stroke="#9400d3" stroke-width="1"/>
<path d="M1303 92.5 H1350" stroke="#009e73" stroke-width="1"/>
<path d="M1303 111.5 H1350" stroke="#56b4e9" stroke-width="1"/>
<rect x="1320.6" y="124.4" width="12" height="12" fill="none" stroke="#e69f00" stroke-width="1.1"/>
<rect x="1320.1" y="143.0" width="13" height="13" fill="#f0e442"/>
<circle cx="1326.6" cy="168.5" r="5.1" fill="none" stroke="#0072b2" stroke-width="1.15"/><circle cx="1326.6" cy="168.5" r="5.1" fill="none" stroke="#0072b2" stroke-width="1.15"/><path d="M1326.6 162.0 v1.5 M1326.6 175.0 v-1.5 M1320.1 168.5 h1.5 M1333.1 168.5 h-1.5" stroke="#0072b2" stroke-width="1"/>
<circle cx="1326.6" cy="187.4" r="5.5" fill="#e51e10"/><path d="M1326.6 180.9 v1.5 M1326.6 193.9 v-1.5 M1320.1 187.4 h1.5 M1333.1 187.4 h-1.5" stroke="#e51e10" stroke-width="1"/>
<polygon points="1326.6,198.2 1318.3,210.4 1334.9,210.4" fill="none" stroke="#000" stroke-width="1"/>
<polygon points="1326.6,217.1 1318.0,229.8 1335.2,229.8" fill="#9400d3"/>
<path d="M1320.1 244.4 h13 M1326.6 237.9 v13" stroke="#009e73" stroke-width="1.1"/>
<polygon points="1326.6,271.6 1318.4,259.6 1334.8,259.6" fill="none" stroke="#56b4e9" stroke-width="1"/>
<polygon points="1326.6,290.2 1318.4,278.2 1334.8,278.2" fill="none" stroke="#e69f00" stroke-width="1"/>
</svg></body></html>
